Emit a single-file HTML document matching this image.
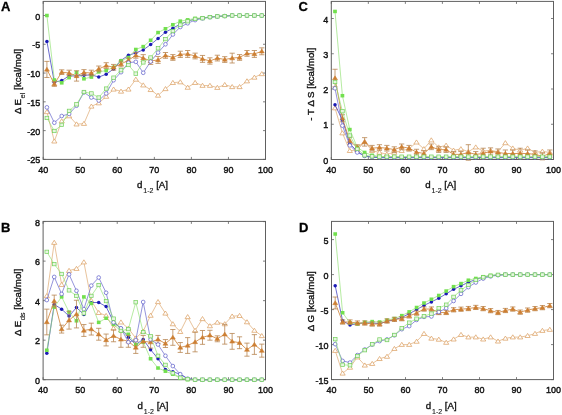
<!DOCTYPE html>
<html><head><meta charset="utf-8"><style>
html,body{margin:0;padding:0;background:#fff;}
svg{display:block;font-family:'Liberation Sans',sans-serif;will-change:transform;}
</style></head><body>
<svg width="562" height="415" viewBox="0 0 562 415" style="font-family:'Liberation Sans',sans-serif">
<rect width="562" height="415" fill="#fff"/>
<rect x="43.2" y="1.4" width="222.3" height="158.0" fill="#fff" stroke="#606060" stroke-width="1"/>
<line x1="43.20" y1="159.4" x2="43.20" y2="156.9" stroke="#606060" stroke-width="0.8"/>
<line x1="43.20" y1="1.4" x2="43.20" y2="3.9" stroke="#606060" stroke-width="0.8"/>
<text transform="translate(43.20,173.10) scale(1,1.06)" text-anchor="middle" font-size="9" fill="#111" stroke="#111" stroke-width="0.4">40</text>
<line x1="80.25" y1="159.4" x2="80.25" y2="156.9" stroke="#606060" stroke-width="0.8"/>
<line x1="80.25" y1="1.4" x2="80.25" y2="3.9" stroke="#606060" stroke-width="0.8"/>
<text transform="translate(80.25,173.10) scale(1,1.06)" text-anchor="middle" font-size="9" fill="#111" stroke="#111" stroke-width="0.4">50</text>
<line x1="117.30" y1="159.4" x2="117.30" y2="156.9" stroke="#606060" stroke-width="0.8"/>
<line x1="117.30" y1="1.4" x2="117.30" y2="3.9" stroke="#606060" stroke-width="0.8"/>
<text transform="translate(117.30,173.10) scale(1,1.06)" text-anchor="middle" font-size="9" fill="#111" stroke="#111" stroke-width="0.4">60</text>
<line x1="154.35" y1="159.4" x2="154.35" y2="156.9" stroke="#606060" stroke-width="0.8"/>
<line x1="154.35" y1="1.4" x2="154.35" y2="3.9" stroke="#606060" stroke-width="0.8"/>
<text transform="translate(154.35,173.10) scale(1,1.06)" text-anchor="middle" font-size="9" fill="#111" stroke="#111" stroke-width="0.4">70</text>
<line x1="191.40" y1="159.4" x2="191.40" y2="156.9" stroke="#606060" stroke-width="0.8"/>
<line x1="191.40" y1="1.4" x2="191.40" y2="3.9" stroke="#606060" stroke-width="0.8"/>
<text transform="translate(191.40,173.10) scale(1,1.06)" text-anchor="middle" font-size="9" fill="#111" stroke="#111" stroke-width="0.4">80</text>
<line x1="228.45" y1="159.4" x2="228.45" y2="156.9" stroke="#606060" stroke-width="0.8"/>
<line x1="228.45" y1="1.4" x2="228.45" y2="3.9" stroke="#606060" stroke-width="0.8"/>
<text transform="translate(228.45,173.10) scale(1,1.06)" text-anchor="middle" font-size="9" fill="#111" stroke="#111" stroke-width="0.4">90</text>
<line x1="265.50" y1="159.4" x2="265.50" y2="156.9" stroke="#606060" stroke-width="0.8"/>
<line x1="265.50" y1="1.4" x2="265.50" y2="3.9" stroke="#606060" stroke-width="0.8"/>
<text transform="translate(265.50,173.10) scale(1,1.06)" text-anchor="middle" font-size="9" fill="#111" stroke="#111" stroke-width="0.4">100</text>
<line x1="43.2" y1="159.40" x2="45.7" y2="159.40" stroke="#606060" stroke-width="0.8"/>
<line x1="265.5" y1="159.40" x2="263.0" y2="159.40" stroke="#606060" stroke-width="0.8"/>
<text transform="translate(40.20,163.40) scale(1,1.06)" text-anchor="end" font-size="9" fill="#111" stroke="#111" stroke-width="0.4">-25</text>
<line x1="43.2" y1="130.62" x2="45.7" y2="130.62" stroke="#606060" stroke-width="0.8"/>
<line x1="265.5" y1="130.62" x2="263.0" y2="130.62" stroke="#606060" stroke-width="0.8"/>
<text transform="translate(40.20,134.62) scale(1,1.06)" text-anchor="end" font-size="9" fill="#111" stroke="#111" stroke-width="0.4">-20</text>
<line x1="43.2" y1="101.84" x2="45.7" y2="101.84" stroke="#606060" stroke-width="0.8"/>
<line x1="265.5" y1="101.84" x2="263.0" y2="101.84" stroke="#606060" stroke-width="0.8"/>
<text transform="translate(40.20,105.84) scale(1,1.06)" text-anchor="end" font-size="9" fill="#111" stroke="#111" stroke-width="0.4">-15</text>
<line x1="43.2" y1="73.06" x2="45.7" y2="73.06" stroke="#606060" stroke-width="0.8"/>
<line x1="265.5" y1="73.06" x2="263.0" y2="73.06" stroke="#606060" stroke-width="0.8"/>
<text transform="translate(40.20,77.06) scale(1,1.06)" text-anchor="end" font-size="9" fill="#111" stroke="#111" stroke-width="0.4">-10</text>
<line x1="43.2" y1="44.28" x2="45.7" y2="44.28" stroke="#606060" stroke-width="0.8"/>
<line x1="265.5" y1="44.28" x2="263.0" y2="44.28" stroke="#606060" stroke-width="0.8"/>
<text transform="translate(40.20,48.28) scale(1,1.06)" text-anchor="end" font-size="9" fill="#111" stroke="#111" stroke-width="0.4">-5</text>
<line x1="43.2" y1="15.50" x2="45.7" y2="15.50" stroke="#606060" stroke-width="0.8"/>
<line x1="265.5" y1="15.50" x2="263.0" y2="15.50" stroke="#606060" stroke-width="0.8"/>
<text transform="translate(40.20,19.50) scale(1,1.06)" text-anchor="end" font-size="9" fill="#111" stroke="#111" stroke-width="0.4">0</text>
<clipPath id="cA"><rect x="43.2" y="1.4" width="222.3" height="158.0"/></clipPath>
<g>
<polyline points="46.91,111.86 54.32,141.21 61.73,121.12 69.14,116.00 76.55,124.17 83.96,123.60 91.37,106.33 98.78,103.05 106.19,96.49 113.59,89.29 121.01,91.36 128.42,89.29 135.82,79.39 143.24,85.15 150.65,89.75 158.06,95.39 165.47,88.83 172.88,82.67 180.29,82.04 187.69,87.45 195.11,82.67 202.51,85.55 209.93,85.55 217.33,87.62 224.75,84.74 232.16,86.82 239.56,86.82 246.98,81.06 254.38,77.38 261.80,73.87" fill="none" stroke="#dca266" stroke-width="0.65"/>
<polygon points="46.91,109.56 49.51,113.66 44.30,113.66" fill="#fff" stroke="#dca266" stroke-width="0.75"/>
<polygon points="54.32,138.91 56.92,143.01 51.72,143.01" fill="#fff" stroke="#dca266" stroke-width="0.75"/>
<polygon points="61.73,118.82 64.33,122.92 59.12,122.92" fill="#fff" stroke="#dca266" stroke-width="0.75"/>
<polygon points="69.14,113.70 71.73,117.80 66.54,117.80" fill="#fff" stroke="#dca266" stroke-width="0.75"/>
<polygon points="76.55,121.87 79.14,125.97 73.95,125.97" fill="#fff" stroke="#dca266" stroke-width="0.75"/>
<polygon points="83.96,121.30 86.56,125.40 81.36,125.40" fill="#fff" stroke="#dca266" stroke-width="0.75"/>
<polygon points="91.37,104.03 93.97,108.13 88.77,108.13" fill="#fff" stroke="#dca266" stroke-width="0.75"/>
<polygon points="98.78,100.75 101.38,104.85 96.18,104.85" fill="#fff" stroke="#dca266" stroke-width="0.75"/>
<polygon points="106.19,94.19 108.78,98.29 103.59,98.29" fill="#fff" stroke="#dca266" stroke-width="0.75"/>
<polygon points="113.59,86.99 116.19,91.09 111.00,91.09" fill="#fff" stroke="#dca266" stroke-width="0.75"/>
<polygon points="121.01,89.06 123.61,93.16 118.41,93.16" fill="#fff" stroke="#dca266" stroke-width="0.75"/>
<polygon points="128.42,86.99 131.02,91.09 125.82,91.09" fill="#fff" stroke="#dca266" stroke-width="0.75"/>
<polygon points="135.82,77.09 138.42,81.19 133.22,81.19" fill="#fff" stroke="#dca266" stroke-width="0.75"/>
<polygon points="143.24,82.85 145.84,86.95 140.64,86.95" fill="#fff" stroke="#dca266" stroke-width="0.75"/>
<polygon points="150.65,87.45 153.25,91.55 148.05,91.55" fill="#fff" stroke="#dca266" stroke-width="0.75"/>
<polygon points="158.06,93.09 160.66,97.19 155.46,97.19" fill="#fff" stroke="#dca266" stroke-width="0.75"/>
<polygon points="165.47,86.53 168.06,90.63 162.87,90.63" fill="#fff" stroke="#dca266" stroke-width="0.75"/>
<polygon points="172.88,80.37 175.47,84.47 170.28,84.47" fill="#fff" stroke="#dca266" stroke-width="0.75"/>
<polygon points="180.29,79.74 182.89,83.84 177.69,83.84" fill="#fff" stroke="#dca266" stroke-width="0.75"/>
<polygon points="187.69,85.15 190.29,89.25 185.09,89.25" fill="#fff" stroke="#dca266" stroke-width="0.75"/>
<polygon points="195.11,80.37 197.71,84.47 192.51,84.47" fill="#fff" stroke="#dca266" stroke-width="0.75"/>
<polygon points="202.51,83.25 205.11,87.35 199.91,87.35" fill="#fff" stroke="#dca266" stroke-width="0.75"/>
<polygon points="209.93,83.25 212.53,87.35 207.33,87.35" fill="#fff" stroke="#dca266" stroke-width="0.75"/>
<polygon points="217.33,85.32 219.93,89.42 214.73,89.42" fill="#fff" stroke="#dca266" stroke-width="0.75"/>
<polygon points="224.75,82.44 227.34,86.54 222.15,86.54" fill="#fff" stroke="#dca266" stroke-width="0.75"/>
<polygon points="232.16,84.52 234.76,88.62 229.56,88.62" fill="#fff" stroke="#dca266" stroke-width="0.75"/>
<polygon points="239.56,84.52 242.16,88.62 236.97,88.62" fill="#fff" stroke="#dca266" stroke-width="0.75"/>
<polygon points="246.98,78.76 249.58,82.86 244.38,82.86" fill="#fff" stroke="#dca266" stroke-width="0.75"/>
<polygon points="254.38,75.08 256.99,79.18 251.78,79.18" fill="#fff" stroke="#dca266" stroke-width="0.75"/>
<polygon points="261.80,71.57 264.40,75.67 259.19,75.67" fill="#fff" stroke="#dca266" stroke-width="0.75"/>
<polyline points="46.91,41.40 54.32,82.27 61.73,80.54 69.14,75.94 76.55,75.94 83.96,75.36 91.37,74.79 98.78,77.09 106.19,74.21 113.59,69.03 121.01,60.40 128.42,55.33 135.82,52.91 143.24,49.92 150.65,44.57 158.06,38.52 165.47,32.19 172.88,28.16 180.29,24.13 187.69,21.26 195.11,18.95 202.51,18.09 209.93,17.11 217.33,16.42 224.75,16.08 232.16,15.50 239.56,15.50 246.98,15.50 254.38,15.50 261.80,15.50" fill="none" stroke="#1a1ab4" stroke-width="0.65"/>
<circle cx="46.91" cy="41.40" r="1.75" fill="#1a1ab4"/>
<circle cx="54.32" cy="82.27" r="1.75" fill="#1a1ab4"/>
<circle cx="61.73" cy="80.54" r="1.75" fill="#1a1ab4"/>
<circle cx="69.14" cy="75.94" r="1.75" fill="#1a1ab4"/>
<circle cx="76.55" cy="75.94" r="1.75" fill="#1a1ab4"/>
<circle cx="83.96" cy="75.36" r="1.75" fill="#1a1ab4"/>
<circle cx="91.37" cy="74.79" r="1.75" fill="#1a1ab4"/>
<circle cx="98.78" cy="77.09" r="1.75" fill="#1a1ab4"/>
<circle cx="106.19" cy="74.21" r="1.75" fill="#1a1ab4"/>
<circle cx="113.59" cy="69.03" r="1.75" fill="#1a1ab4"/>
<circle cx="121.01" cy="60.40" r="1.75" fill="#1a1ab4"/>
<circle cx="128.42" cy="55.33" r="1.75" fill="#1a1ab4"/>
<circle cx="135.82" cy="52.91" r="1.75" fill="#1a1ab4"/>
<circle cx="143.24" cy="49.92" r="1.75" fill="#1a1ab4"/>
<circle cx="150.65" cy="44.57" r="1.75" fill="#1a1ab4"/>
<circle cx="158.06" cy="38.52" r="1.75" fill="#1a1ab4"/>
<circle cx="165.47" cy="32.19" r="1.75" fill="#1a1ab4"/>
<circle cx="172.88" cy="28.16" r="1.75" fill="#1a1ab4"/>
<circle cx="180.29" cy="24.13" r="1.75" fill="#1a1ab4"/>
<circle cx="187.69" cy="21.26" r="1.75" fill="#1a1ab4"/>
<circle cx="195.11" cy="18.95" r="1.75" fill="#1a1ab4"/>
<circle cx="202.51" cy="18.09" r="1.75" fill="#1a1ab4"/>
<circle cx="209.93" cy="17.11" r="1.75" fill="#1a1ab4"/>
<circle cx="217.33" cy="16.42" r="1.75" fill="#1a1ab4"/>
<circle cx="224.75" cy="16.08" r="1.75" fill="#1a1ab4"/>
<circle cx="232.16" cy="15.50" r="1.75" fill="#1a1ab4"/>
<circle cx="239.56" cy="15.50" r="1.75" fill="#1a1ab4"/>
<circle cx="246.98" cy="15.50" r="1.75" fill="#1a1ab4"/>
<circle cx="254.38" cy="15.50" r="1.75" fill="#1a1ab4"/>
<circle cx="261.80" cy="15.50" r="1.75" fill="#1a1ab4"/>
<polyline points="46.91,15.50 54.32,79.97 61.73,82.85 69.14,77.66 76.55,72.48 83.96,78.82 91.37,77.09 98.78,71.91 106.19,70.53 113.59,67.30 121.01,60.80 128.42,57.52 135.82,49.46 143.24,46.58 150.65,40.25 158.06,32.54 165.47,28.74 172.88,24.71 180.29,21.14 187.69,19.82 195.11,18.38 202.51,17.80 209.93,16.94 217.33,16.36 224.75,15.96 232.16,15.50 239.56,15.50 246.98,15.50 254.38,15.50 261.80,15.50" fill="none" stroke="#8ee070" stroke-width="0.65"/>
<rect x="45.05" y="13.75" width="3.7" height="3.5" fill="#72e04e"/>
<rect x="52.47" y="78.22" width="3.7" height="3.5" fill="#72e04e"/>
<rect x="59.88" y="81.10" width="3.7" height="3.5" fill="#72e04e"/>
<rect x="67.29" y="75.91" width="3.7" height="3.5" fill="#72e04e"/>
<rect x="74.70" y="70.73" width="3.7" height="3.5" fill="#72e04e"/>
<rect x="82.11" y="77.07" width="3.7" height="3.5" fill="#72e04e"/>
<rect x="89.52" y="75.34" width="3.7" height="3.5" fill="#72e04e"/>
<rect x="96.93" y="70.16" width="3.7" height="3.5" fill="#72e04e"/>
<rect x="104.34" y="68.78" width="3.7" height="3.5" fill="#72e04e"/>
<rect x="111.75" y="65.55" width="3.7" height="3.5" fill="#72e04e"/>
<rect x="119.16" y="59.05" width="3.7" height="3.5" fill="#72e04e"/>
<rect x="126.57" y="55.77" width="3.7" height="3.5" fill="#72e04e"/>
<rect x="133.97" y="47.71" width="3.7" height="3.5" fill="#72e04e"/>
<rect x="141.39" y="44.83" width="3.7" height="3.5" fill="#72e04e"/>
<rect x="148.80" y="38.50" width="3.7" height="3.5" fill="#72e04e"/>
<rect x="156.21" y="30.79" width="3.7" height="3.5" fill="#72e04e"/>
<rect x="163.62" y="26.99" width="3.7" height="3.5" fill="#72e04e"/>
<rect x="171.03" y="22.96" width="3.7" height="3.5" fill="#72e04e"/>
<rect x="178.44" y="19.39" width="3.7" height="3.5" fill="#72e04e"/>
<rect x="185.84" y="18.07" width="3.7" height="3.5" fill="#72e04e"/>
<rect x="193.26" y="16.63" width="3.7" height="3.5" fill="#72e04e"/>
<rect x="200.66" y="16.05" width="3.7" height="3.5" fill="#72e04e"/>
<rect x="208.08" y="15.19" width="3.7" height="3.5" fill="#72e04e"/>
<rect x="215.48" y="14.61" width="3.7" height="3.5" fill="#72e04e"/>
<rect x="222.90" y="14.21" width="3.7" height="3.5" fill="#72e04e"/>
<rect x="230.31" y="13.75" width="3.7" height="3.5" fill="#72e04e"/>
<rect x="237.72" y="13.75" width="3.7" height="3.5" fill="#72e04e"/>
<rect x="245.13" y="13.75" width="3.7" height="3.5" fill="#72e04e"/>
<rect x="252.53" y="13.75" width="3.7" height="3.5" fill="#72e04e"/>
<rect x="259.94" y="13.75" width="3.7" height="3.5" fill="#72e04e"/>
<polyline points="46.91,69.43 54.32,84.00 61.73,72.14 69.14,73.06 76.55,75.94 83.96,72.48 91.37,73.06 98.78,68.92 106.19,65.58 113.59,67.30 121.01,64.02 128.42,60.22 135.82,55.33 143.24,58.09 150.65,60.97 158.06,59.94 165.47,55.39 172.88,57.46 180.29,54.35 187.69,53.95 195.11,56.02 202.51,58.90 209.93,60.97 217.33,58.09 224.75,59.53 232.16,58.09 239.56,57.46 246.98,53.37 254.38,53.95 261.80,51.30" fill="none" stroke="#cd7f32" stroke-width="0.8"/>
<path d="M46.91,61.38V77.49M44.30,61.38H49.51M44.30,77.49H49.51" stroke="#b88550" stroke-width="0.8" fill="none"/>
<path d="M54.32,81.69V86.30M51.72,81.69H56.92M51.72,86.30H56.92" stroke="#b88550" stroke-width="0.8" fill="none"/>
<path d="M61.73,69.84V74.44M59.12,69.84H64.33M59.12,74.44H64.33" stroke="#b88550" stroke-width="0.8" fill="none"/>
<path d="M69.14,70.18V75.94M66.54,70.18H71.73M66.54,75.94H71.73" stroke="#b88550" stroke-width="0.8" fill="none"/>
<path d="M76.55,70.76V81.12M73.95,70.76H79.14M73.95,81.12H79.14" stroke="#b88550" stroke-width="0.8" fill="none"/>
<path d="M83.96,69.61V75.36M81.36,69.61H86.56M81.36,75.36H86.56" stroke="#b88550" stroke-width="0.8" fill="none"/>
<path d="M91.37,70.18V75.94M88.77,70.18H93.97M88.77,75.94H93.97" stroke="#b88550" stroke-width="0.8" fill="none"/>
<path d="M98.78,66.04V71.79M96.18,66.04H101.38M96.18,71.79H101.38" stroke="#b88550" stroke-width="0.8" fill="none"/>
<path d="M106.19,62.70V68.46M103.59,62.70H108.78M103.59,68.46H108.78" stroke="#b88550" stroke-width="0.8" fill="none"/>
<path d="M113.59,64.43V70.18M111.00,64.43H116.19M111.00,70.18H116.19" stroke="#b88550" stroke-width="0.8" fill="none"/>
<path d="M121.01,61.15V66.90M118.41,61.15H123.61M118.41,66.90H123.61" stroke="#b88550" stroke-width="0.8" fill="none"/>
<path d="M128.42,57.92V62.53M125.82,57.92H131.02M125.82,62.53H131.02" stroke="#b88550" stroke-width="0.8" fill="none"/>
<path d="M135.82,52.45V58.21M133.22,52.45H138.42M133.22,58.21H138.42" stroke="#b88550" stroke-width="0.8" fill="none"/>
<path d="M143.24,54.64V61.55M140.64,54.64H145.84M140.64,61.55H145.84" stroke="#b88550" stroke-width="0.8" fill="none"/>
<path d="M150.65,57.52V64.43M148.05,57.52H153.25M148.05,64.43H153.25" stroke="#b88550" stroke-width="0.8" fill="none"/>
<path d="M158.06,56.48V63.39M155.46,56.48H160.66M155.46,63.39H160.66" stroke="#b88550" stroke-width="0.8" fill="none"/>
<path d="M165.47,52.51V58.27M162.87,52.51H168.06M162.87,58.27H168.06" stroke="#b88550" stroke-width="0.8" fill="none"/>
<path d="M172.88,54.58V60.34M170.28,54.58H175.47M170.28,60.34H175.47" stroke="#b88550" stroke-width="0.8" fill="none"/>
<path d="M180.29,51.19V57.52M177.69,51.19H182.89M177.69,57.52H182.89" stroke="#b88550" stroke-width="0.8" fill="none"/>
<path d="M187.69,50.50V57.40M185.09,50.50H190.29M185.09,57.40H190.29" stroke="#b88550" stroke-width="0.8" fill="none"/>
<path d="M195.11,53.14V58.90M192.51,53.14H197.71M192.51,58.90H197.71" stroke="#b88550" stroke-width="0.8" fill="none"/>
<path d="M202.51,55.45V62.35M199.91,55.45H205.11M199.91,62.35H205.11" stroke="#b88550" stroke-width="0.8" fill="none"/>
<path d="M209.93,57.81V64.14M207.33,57.81H212.53M207.33,64.14H212.53" stroke="#b88550" stroke-width="0.8" fill="none"/>
<path d="M217.33,55.22V60.97M214.73,55.22H219.93M214.73,60.97H219.93" stroke="#b88550" stroke-width="0.8" fill="none"/>
<path d="M224.75,56.66V62.41M222.15,56.66H227.34M222.15,62.41H227.34" stroke="#b88550" stroke-width="0.8" fill="none"/>
<path d="M232.16,53.20V62.99M229.56,53.20H234.76M229.56,62.99H234.76" stroke="#b88550" stroke-width="0.8" fill="none"/>
<path d="M239.56,54.58V60.34M236.97,54.58H242.16M236.97,60.34H242.16" stroke="#b88550" stroke-width="0.8" fill="none"/>
<path d="M246.98,50.50V56.25M244.38,50.50H249.58M244.38,56.25H249.58" stroke="#b88550" stroke-width="0.8" fill="none"/>
<path d="M254.38,50.50V57.40M251.78,50.50H256.99M251.78,57.40H256.99" stroke="#b88550" stroke-width="0.8" fill="none"/>
<path d="M261.80,47.85V54.76M259.19,47.85H264.40M259.19,54.76H264.40" stroke="#b88550" stroke-width="0.8" fill="none"/>
<polygon points="46.91,67.23 49.41,71.13 44.41,71.13" fill="#cd7f32" stroke="#cd7f32" stroke-width="0.5"/>
<polygon points="54.32,81.80 56.82,85.70 51.82,85.70" fill="#cd7f32" stroke="#cd7f32" stroke-width="0.5"/>
<polygon points="61.73,69.94 64.22,73.84 59.23,73.84" fill="#cd7f32" stroke="#cd7f32" stroke-width="0.5"/>
<polygon points="69.14,70.86 71.64,74.76 66.64,74.76" fill="#cd7f32" stroke="#cd7f32" stroke-width="0.5"/>
<polygon points="76.55,73.74 79.05,77.64 74.05,77.64" fill="#cd7f32" stroke="#cd7f32" stroke-width="0.5"/>
<polygon points="83.96,70.28 86.46,74.18 81.46,74.18" fill="#cd7f32" stroke="#cd7f32" stroke-width="0.5"/>
<polygon points="91.37,70.86 93.87,74.76 88.87,74.76" fill="#cd7f32" stroke="#cd7f32" stroke-width="0.5"/>
<polygon points="98.78,66.72 101.28,70.62 96.28,70.62" fill="#cd7f32" stroke="#cd7f32" stroke-width="0.5"/>
<polygon points="106.19,63.38 108.69,67.28 103.69,67.28" fill="#cd7f32" stroke="#cd7f32" stroke-width="0.5"/>
<polygon points="113.59,65.10 116.09,69.00 111.09,69.00" fill="#cd7f32" stroke="#cd7f32" stroke-width="0.5"/>
<polygon points="121.01,61.82 123.51,65.72 118.51,65.72" fill="#cd7f32" stroke="#cd7f32" stroke-width="0.5"/>
<polygon points="128.42,58.02 130.92,61.92 125.92,61.92" fill="#cd7f32" stroke="#cd7f32" stroke-width="0.5"/>
<polygon points="135.82,53.13 138.32,57.03 133.32,57.03" fill="#cd7f32" stroke="#cd7f32" stroke-width="0.5"/>
<polygon points="143.24,55.89 145.74,59.79 140.74,59.79" fill="#cd7f32" stroke="#cd7f32" stroke-width="0.5"/>
<polygon points="150.65,58.77 153.15,62.67 148.15,62.67" fill="#cd7f32" stroke="#cd7f32" stroke-width="0.5"/>
<polygon points="158.06,57.74 160.56,61.64 155.56,61.64" fill="#cd7f32" stroke="#cd7f32" stroke-width="0.5"/>
<polygon points="165.47,53.19 167.97,57.09 162.97,57.09" fill="#cd7f32" stroke="#cd7f32" stroke-width="0.5"/>
<polygon points="172.88,55.26 175.38,59.16 170.38,59.16" fill="#cd7f32" stroke="#cd7f32" stroke-width="0.5"/>
<polygon points="180.29,52.15 182.79,56.05 177.79,56.05" fill="#cd7f32" stroke="#cd7f32" stroke-width="0.5"/>
<polygon points="187.69,51.75 190.19,55.65 185.19,55.65" fill="#cd7f32" stroke="#cd7f32" stroke-width="0.5"/>
<polygon points="195.11,53.82 197.61,57.72 192.61,57.72" fill="#cd7f32" stroke="#cd7f32" stroke-width="0.5"/>
<polygon points="202.51,56.70 205.01,60.60 200.01,60.60" fill="#cd7f32" stroke="#cd7f32" stroke-width="0.5"/>
<polygon points="209.93,58.77 212.43,62.67 207.43,62.67" fill="#cd7f32" stroke="#cd7f32" stroke-width="0.5"/>
<polygon points="217.33,55.89 219.83,59.79 214.83,59.79" fill="#cd7f32" stroke="#cd7f32" stroke-width="0.5"/>
<polygon points="224.75,57.33 227.25,61.23 222.25,61.23" fill="#cd7f32" stroke="#cd7f32" stroke-width="0.5"/>
<polygon points="232.16,55.89 234.66,59.79 229.66,59.79" fill="#cd7f32" stroke="#cd7f32" stroke-width="0.5"/>
<polygon points="239.56,55.26 242.06,59.16 237.06,59.16" fill="#cd7f32" stroke="#cd7f32" stroke-width="0.5"/>
<polygon points="246.98,51.17 249.48,55.07 244.48,55.07" fill="#cd7f32" stroke="#cd7f32" stroke-width="0.5"/>
<polygon points="254.38,51.75 256.88,55.65 251.88,55.65" fill="#cd7f32" stroke="#cd7f32" stroke-width="0.5"/>
<polygon points="261.80,49.10 264.30,53.00 259.30,53.00" fill="#cd7f32" stroke="#cd7f32" stroke-width="0.5"/>
<polyline points="46.91,107.37 54.32,122.73 61.73,116.00 69.14,113.93 76.55,105.70 83.96,92.40 91.37,97.52 98.78,100.57 106.19,93.44 113.59,80.25 121.01,72.20 128.42,62.70 135.82,61.84 143.24,72.77 150.65,61.55 158.06,52.63 165.47,44.28 172.88,34.49 180.29,27.01 187.69,23.27 195.11,20.10 202.51,18.38 209.93,17.23 217.33,16.42 224.75,16.08 232.16,15.50 239.56,15.50 246.98,15.50 254.38,15.50 261.80,15.50" fill="none" stroke="#5a5ac8" stroke-width="0.65"/>
<circle cx="46.91" cy="107.37" r="1.85" fill="#fff" stroke="#5a5ac8" stroke-width="0.7"/>
<circle cx="54.32" cy="122.73" r="1.85" fill="#fff" stroke="#5a5ac8" stroke-width="0.7"/>
<circle cx="61.73" cy="116.00" r="1.85" fill="#fff" stroke="#5a5ac8" stroke-width="0.7"/>
<circle cx="69.14" cy="113.93" r="1.85" fill="#fff" stroke="#5a5ac8" stroke-width="0.7"/>
<circle cx="76.55" cy="105.70" r="1.85" fill="#fff" stroke="#5a5ac8" stroke-width="0.7"/>
<circle cx="83.96" cy="92.40" r="1.85" fill="#fff" stroke="#5a5ac8" stroke-width="0.7"/>
<circle cx="91.37" cy="97.52" r="1.85" fill="#fff" stroke="#5a5ac8" stroke-width="0.7"/>
<circle cx="98.78" cy="100.57" r="1.85" fill="#fff" stroke="#5a5ac8" stroke-width="0.7"/>
<circle cx="106.19" cy="93.44" r="1.85" fill="#fff" stroke="#5a5ac8" stroke-width="0.7"/>
<circle cx="113.59" cy="80.25" r="1.85" fill="#fff" stroke="#5a5ac8" stroke-width="0.7"/>
<circle cx="121.01" cy="72.20" r="1.85" fill="#fff" stroke="#5a5ac8" stroke-width="0.7"/>
<circle cx="128.42" cy="62.70" r="1.85" fill="#fff" stroke="#5a5ac8" stroke-width="0.7"/>
<circle cx="135.82" cy="61.84" r="1.85" fill="#fff" stroke="#5a5ac8" stroke-width="0.7"/>
<circle cx="143.24" cy="72.77" r="1.85" fill="#fff" stroke="#5a5ac8" stroke-width="0.7"/>
<circle cx="150.65" cy="61.55" r="1.85" fill="#fff" stroke="#5a5ac8" stroke-width="0.7"/>
<circle cx="158.06" cy="52.63" r="1.85" fill="#fff" stroke="#5a5ac8" stroke-width="0.7"/>
<circle cx="165.47" cy="44.28" r="1.85" fill="#fff" stroke="#5a5ac8" stroke-width="0.7"/>
<circle cx="172.88" cy="34.49" r="1.85" fill="#fff" stroke="#5a5ac8" stroke-width="0.7"/>
<circle cx="180.29" cy="27.01" r="1.85" fill="#fff" stroke="#5a5ac8" stroke-width="0.7"/>
<circle cx="187.69" cy="23.27" r="1.85" fill="#fff" stroke="#5a5ac8" stroke-width="0.7"/>
<circle cx="195.11" cy="20.10" r="1.85" fill="#fff" stroke="#5a5ac8" stroke-width="0.7"/>
<circle cx="202.51" cy="18.38" r="1.85" fill="#fff" stroke="#5a5ac8" stroke-width="0.7"/>
<circle cx="209.93" cy="17.23" r="1.85" fill="#fff" stroke="#5a5ac8" stroke-width="0.7"/>
<circle cx="217.33" cy="16.42" r="1.85" fill="#fff" stroke="#5a5ac8" stroke-width="0.7"/>
<circle cx="224.75" cy="16.08" r="1.85" fill="#fff" stroke="#5a5ac8" stroke-width="0.7"/>
<circle cx="232.16" cy="15.50" r="1.85" fill="#fff" stroke="#5a5ac8" stroke-width="0.7"/>
<circle cx="239.56" cy="15.50" r="1.85" fill="#fff" stroke="#5a5ac8" stroke-width="0.7"/>
<circle cx="246.98" cy="15.50" r="1.85" fill="#fff" stroke="#5a5ac8" stroke-width="0.7"/>
<circle cx="254.38" cy="15.50" r="1.85" fill="#fff" stroke="#5a5ac8" stroke-width="0.7"/>
<circle cx="261.80" cy="15.50" r="1.85" fill="#fff" stroke="#5a5ac8" stroke-width="0.7"/>
<polyline points="46.91,117.96 54.32,130.97 61.73,124.86 69.14,110.88 76.55,104.32 83.96,92.00 91.37,93.44 98.78,97.52 106.19,88.60 113.59,77.66 121.01,70.18 128.42,65.00 135.82,73.64 143.24,62.41 150.65,57.52 158.06,48.31 165.47,39.10 172.88,31.04 180.29,24.71 187.69,21.26 195.11,18.95 202.51,18.21 209.93,17.11 217.33,16.42 224.75,16.08 232.16,15.50 239.56,15.50 246.98,15.50 254.38,15.50 261.80,15.50" fill="none" stroke="#8ee070" stroke-width="0.65"/>
<rect x="45.05" y="116.26" width="3.7" height="3.4" fill="#e6f6e0" stroke="#72d05a" stroke-width="0.7"/>
<rect x="52.47" y="129.27" width="3.7" height="3.4" fill="#e6f6e0" stroke="#72d05a" stroke-width="0.7"/>
<rect x="59.88" y="123.16" width="3.7" height="3.4" fill="#e6f6e0" stroke="#72d05a" stroke-width="0.7"/>
<rect x="67.29" y="109.18" width="3.7" height="3.4" fill="#e6f6e0" stroke="#72d05a" stroke-width="0.7"/>
<rect x="74.70" y="102.62" width="3.7" height="3.4" fill="#e6f6e0" stroke="#72d05a" stroke-width="0.7"/>
<rect x="82.11" y="90.30" width="3.7" height="3.4" fill="#e6f6e0" stroke="#72d05a" stroke-width="0.7"/>
<rect x="89.52" y="91.74" width="3.7" height="3.4" fill="#e6f6e0" stroke="#72d05a" stroke-width="0.7"/>
<rect x="96.93" y="95.82" width="3.7" height="3.4" fill="#e6f6e0" stroke="#72d05a" stroke-width="0.7"/>
<rect x="104.34" y="86.90" width="3.7" height="3.4" fill="#e6f6e0" stroke="#72d05a" stroke-width="0.7"/>
<rect x="111.75" y="75.96" width="3.7" height="3.4" fill="#e6f6e0" stroke="#72d05a" stroke-width="0.7"/>
<rect x="119.16" y="68.48" width="3.7" height="3.4" fill="#e6f6e0" stroke="#72d05a" stroke-width="0.7"/>
<rect x="126.57" y="63.30" width="3.7" height="3.4" fill="#e6f6e0" stroke="#72d05a" stroke-width="0.7"/>
<rect x="133.97" y="71.94" width="3.7" height="3.4" fill="#e6f6e0" stroke="#72d05a" stroke-width="0.7"/>
<rect x="141.39" y="60.71" width="3.7" height="3.4" fill="#e6f6e0" stroke="#72d05a" stroke-width="0.7"/>
<rect x="148.80" y="55.82" width="3.7" height="3.4" fill="#e6f6e0" stroke="#72d05a" stroke-width="0.7"/>
<rect x="156.21" y="46.61" width="3.7" height="3.4" fill="#e6f6e0" stroke="#72d05a" stroke-width="0.7"/>
<rect x="163.62" y="37.40" width="3.7" height="3.4" fill="#e6f6e0" stroke="#72d05a" stroke-width="0.7"/>
<rect x="171.03" y="29.34" width="3.7" height="3.4" fill="#e6f6e0" stroke="#72d05a" stroke-width="0.7"/>
<rect x="178.44" y="23.01" width="3.7" height="3.4" fill="#e6f6e0" stroke="#72d05a" stroke-width="0.7"/>
<rect x="185.84" y="19.56" width="3.7" height="3.4" fill="#e6f6e0" stroke="#72d05a" stroke-width="0.7"/>
<rect x="193.26" y="17.25" width="3.7" height="3.4" fill="#e6f6e0" stroke="#72d05a" stroke-width="0.7"/>
<rect x="200.66" y="16.51" width="3.7" height="3.4" fill="#e6f6e0" stroke="#72d05a" stroke-width="0.7"/>
<rect x="208.08" y="15.41" width="3.7" height="3.4" fill="#e6f6e0" stroke="#72d05a" stroke-width="0.7"/>
<rect x="215.48" y="14.72" width="3.7" height="3.4" fill="#e6f6e0" stroke="#72d05a" stroke-width="0.7"/>
<rect x="222.90" y="14.38" width="3.7" height="3.4" fill="#e6f6e0" stroke="#72d05a" stroke-width="0.7"/>
<rect x="230.31" y="13.80" width="3.7" height="3.4" fill="#e6f6e0" stroke="#72d05a" stroke-width="0.7"/>
<rect x="237.72" y="13.80" width="3.7" height="3.4" fill="#e6f6e0" stroke="#72d05a" stroke-width="0.7"/>
<rect x="245.13" y="13.80" width="3.7" height="3.4" fill="#e6f6e0" stroke="#72d05a" stroke-width="0.7"/>
<rect x="252.53" y="13.80" width="3.7" height="3.4" fill="#e6f6e0" stroke="#72d05a" stroke-width="0.7"/>
<rect x="259.94" y="13.80" width="3.7" height="3.4" fill="#e6f6e0" stroke="#72d05a" stroke-width="0.7"/>
</g>
<text x="1.0" y="10.6" font-size="13" font-weight="bold" fill="#000" stroke="#000" stroke-width="0.3">A</text>
<text transform="translate(20.5,81.5) rotate(-90)" text-anchor="middle" font-size="9.7" fill="#111" stroke="#111" stroke-width="0.35">Δ E<tspan font-size="7.5" dx="0.5" dy="4.5" stroke-width="0.12">el</tspan><tspan dy="-4.5"> [kcal/mol]</tspan></text>
<text x="152.5" y="188" text-anchor="middle" font-size="9.7" fill="#111" stroke="#111" stroke-width="0.35">d<tspan font-size="7" dx="1" dy="4.5" stroke-width="0.12">1-2</tspan><tspan dy="-4.5"> [A]</tspan></text>
<rect x="331.3" y="1.4" width="222.2" height="158.1" fill="#fff" stroke="#606060" stroke-width="1"/>
<line x1="331.30" y1="159.5" x2="331.30" y2="157.0" stroke="#606060" stroke-width="0.8"/>
<line x1="331.30" y1="1.4" x2="331.30" y2="3.9" stroke="#606060" stroke-width="0.8"/>
<text transform="translate(331.30,173.20) scale(1,1.06)" text-anchor="middle" font-size="9" fill="#111" stroke="#111" stroke-width="0.4">40</text>
<line x1="368.33" y1="159.5" x2="368.33" y2="157.0" stroke="#606060" stroke-width="0.8"/>
<line x1="368.33" y1="1.4" x2="368.33" y2="3.9" stroke="#606060" stroke-width="0.8"/>
<text transform="translate(368.33,173.20) scale(1,1.06)" text-anchor="middle" font-size="9" fill="#111" stroke="#111" stroke-width="0.4">50</text>
<line x1="405.37" y1="159.5" x2="405.37" y2="157.0" stroke="#606060" stroke-width="0.8"/>
<line x1="405.37" y1="1.4" x2="405.37" y2="3.9" stroke="#606060" stroke-width="0.8"/>
<text transform="translate(405.37,173.20) scale(1,1.06)" text-anchor="middle" font-size="9" fill="#111" stroke="#111" stroke-width="0.4">60</text>
<line x1="442.40" y1="159.5" x2="442.40" y2="157.0" stroke="#606060" stroke-width="0.8"/>
<line x1="442.40" y1="1.4" x2="442.40" y2="3.9" stroke="#606060" stroke-width="0.8"/>
<text transform="translate(442.40,173.20) scale(1,1.06)" text-anchor="middle" font-size="9" fill="#111" stroke="#111" stroke-width="0.4">70</text>
<line x1="479.43" y1="159.5" x2="479.43" y2="157.0" stroke="#606060" stroke-width="0.8"/>
<line x1="479.43" y1="1.4" x2="479.43" y2="3.9" stroke="#606060" stroke-width="0.8"/>
<text transform="translate(479.43,173.20) scale(1,1.06)" text-anchor="middle" font-size="9" fill="#111" stroke="#111" stroke-width="0.4">80</text>
<line x1="516.47" y1="159.5" x2="516.47" y2="157.0" stroke="#606060" stroke-width="0.8"/>
<line x1="516.47" y1="1.4" x2="516.47" y2="3.9" stroke="#606060" stroke-width="0.8"/>
<text transform="translate(516.47,173.20) scale(1,1.06)" text-anchor="middle" font-size="9" fill="#111" stroke="#111" stroke-width="0.4">90</text>
<line x1="553.50" y1="159.5" x2="553.50" y2="157.0" stroke="#606060" stroke-width="0.8"/>
<line x1="553.50" y1="1.4" x2="553.50" y2="3.9" stroke="#606060" stroke-width="0.8"/>
<text transform="translate(553.50,173.20) scale(1,1.06)" text-anchor="middle" font-size="9" fill="#111" stroke="#111" stroke-width="0.4">100</text>
<line x1="331.3" y1="159.50" x2="333.8" y2="159.50" stroke="#606060" stroke-width="0.8"/>
<line x1="553.5" y1="159.50" x2="551.0" y2="159.50" stroke="#606060" stroke-width="0.8"/>
<text transform="translate(328.30,163.50) scale(1,1.06)" text-anchor="end" font-size="9" fill="#111" stroke="#111" stroke-width="0.4">0</text>
<line x1="331.3" y1="124.25" x2="333.8" y2="124.25" stroke="#606060" stroke-width="0.8"/>
<line x1="553.5" y1="124.25" x2="551.0" y2="124.25" stroke="#606060" stroke-width="0.8"/>
<text transform="translate(328.30,128.25) scale(1,1.06)" text-anchor="end" font-size="9" fill="#111" stroke="#111" stroke-width="0.4">1</text>
<line x1="331.3" y1="89.00" x2="333.8" y2="89.00" stroke="#606060" stroke-width="0.8"/>
<line x1="553.5" y1="89.00" x2="551.0" y2="89.00" stroke="#606060" stroke-width="0.8"/>
<text transform="translate(328.30,93.00) scale(1,1.06)" text-anchor="end" font-size="9" fill="#111" stroke="#111" stroke-width="0.4">2</text>
<line x1="331.3" y1="53.75" x2="333.8" y2="53.75" stroke="#606060" stroke-width="0.8"/>
<line x1="553.5" y1="53.75" x2="551.0" y2="53.75" stroke="#606060" stroke-width="0.8"/>
<text transform="translate(328.30,57.75) scale(1,1.06)" text-anchor="end" font-size="9" fill="#111" stroke="#111" stroke-width="0.4">3</text>
<line x1="331.3" y1="18.50" x2="333.8" y2="18.50" stroke="#606060" stroke-width="0.8"/>
<line x1="553.5" y1="18.50" x2="551.0" y2="18.50" stroke="#606060" stroke-width="0.8"/>
<text transform="translate(328.30,22.50) scale(1,1.06)" text-anchor="end" font-size="9" fill="#111" stroke="#111" stroke-width="0.4">4</text>
<clipPath id="cC"><rect x="331.3" y="1.4" width="222.2" height="158.1"/></clipPath>
<g>
<polyline points="335.00,108.03 342.41,133.06 349.82,150.69 357.22,149.98 364.63,141.88 372.04,150.69 379.44,152.45 386.85,154.21 394.26,152.45 401.66,150.69 409.07,148.93 416.48,142.23 423.88,148.93 431.29,140.11 438.70,147.16 446.10,145.40 453.51,150.34 460.92,148.93 468.32,151.75 475.73,147.16 483.14,151.04 490.54,150.34 497.95,151.75 505.36,142.93 512.76,148.22 520.17,150.34 527.58,148.22 534.98,152.45 542.39,151.39 549.80,152.45" fill="none" stroke="#dca266" stroke-width="0.65"/>
<polygon points="335.00,105.73 337.60,109.83 332.40,109.83" fill="#fff" stroke="#dca266" stroke-width="0.75"/>
<polygon points="342.41,130.76 345.01,134.86 339.81,134.86" fill="#fff" stroke="#dca266" stroke-width="0.75"/>
<polygon points="349.82,148.39 352.42,152.49 347.22,152.49" fill="#fff" stroke="#dca266" stroke-width="0.75"/>
<polygon points="357.22,147.68 359.82,151.78 354.62,151.78" fill="#fff" stroke="#dca266" stroke-width="0.75"/>
<polygon points="364.63,139.57 367.23,143.68 362.03,143.68" fill="#fff" stroke="#dca266" stroke-width="0.75"/>
<polygon points="372.04,148.39 374.64,152.49 369.44,152.49" fill="#fff" stroke="#dca266" stroke-width="0.75"/>
<polygon points="379.44,150.15 382.04,154.25 376.84,154.25" fill="#fff" stroke="#dca266" stroke-width="0.75"/>
<polygon points="386.85,151.91 389.45,156.01 384.25,156.01" fill="#fff" stroke="#dca266" stroke-width="0.75"/>
<polygon points="394.26,150.15 396.86,154.25 391.66,154.25" fill="#fff" stroke="#dca266" stroke-width="0.75"/>
<polygon points="401.66,148.39 404.26,152.49 399.06,152.49" fill="#fff" stroke="#dca266" stroke-width="0.75"/>
<polygon points="409.07,146.62 411.67,150.73 406.47,150.73" fill="#fff" stroke="#dca266" stroke-width="0.75"/>
<polygon points="416.48,139.93 419.08,144.03 413.88,144.03" fill="#fff" stroke="#dca266" stroke-width="0.75"/>
<polygon points="423.88,146.62 426.48,150.73 421.28,150.73" fill="#fff" stroke="#dca266" stroke-width="0.75"/>
<polygon points="431.29,137.81 433.89,141.91 428.69,141.91" fill="#fff" stroke="#dca266" stroke-width="0.75"/>
<polygon points="438.70,144.86 441.30,148.96 436.10,148.96" fill="#fff" stroke="#dca266" stroke-width="0.75"/>
<polygon points="446.10,143.10 448.70,147.20 443.50,147.20" fill="#fff" stroke="#dca266" stroke-width="0.75"/>
<polygon points="453.51,148.03 456.11,152.14 450.91,152.14" fill="#fff" stroke="#dca266" stroke-width="0.75"/>
<polygon points="460.92,146.62 463.52,150.73 458.32,150.73" fill="#fff" stroke="#dca266" stroke-width="0.75"/>
<polygon points="468.32,149.44 470.92,153.55 465.72,153.55" fill="#fff" stroke="#dca266" stroke-width="0.75"/>
<polygon points="475.73,144.86 478.33,148.96 473.13,148.96" fill="#fff" stroke="#dca266" stroke-width="0.75"/>
<polygon points="483.14,148.74 485.74,152.84 480.54,152.84" fill="#fff" stroke="#dca266" stroke-width="0.75"/>
<polygon points="490.54,148.03 493.14,152.14 487.94,152.14" fill="#fff" stroke="#dca266" stroke-width="0.75"/>
<polygon points="497.95,149.44 500.55,153.55 495.35,153.55" fill="#fff" stroke="#dca266" stroke-width="0.75"/>
<polygon points="505.36,140.63 507.96,144.73 502.76,144.73" fill="#fff" stroke="#dca266" stroke-width="0.75"/>
<polygon points="512.76,145.92 515.36,150.02 510.16,150.02" fill="#fff" stroke="#dca266" stroke-width="0.75"/>
<polygon points="520.17,148.03 522.77,152.14 517.57,152.14" fill="#fff" stroke="#dca266" stroke-width="0.75"/>
<polygon points="527.58,145.92 530.18,150.02 524.98,150.02" fill="#fff" stroke="#dca266" stroke-width="0.75"/>
<polygon points="534.98,150.15 537.58,154.25 532.38,154.25" fill="#fff" stroke="#dca266" stroke-width="0.75"/>
<polygon points="542.39,149.09 544.99,153.19 539.79,153.19" fill="#fff" stroke="#dca266" stroke-width="0.75"/>
<polygon points="549.80,150.15 552.40,154.25 547.20,154.25" fill="#fff" stroke="#dca266" stroke-width="0.75"/>
<polyline points="335.00,104.86 342.41,120.02 349.82,143.64 357.22,151.39 364.63,155.97 372.04,157.03 379.44,157.74 386.85,157.74 394.26,157.74 401.66,157.74 409.07,157.74 416.48,157.74 423.88,157.74 431.29,157.74 438.70,157.74 446.10,157.74 453.51,157.74 460.92,157.74 468.32,157.74 475.73,157.74 483.14,157.74 490.54,157.74 497.95,157.74 505.36,157.74 512.76,157.74 520.17,157.74 527.58,157.74 534.98,157.74 542.39,157.74 549.80,157.74" fill="none" stroke="#1a1ab4" stroke-width="0.65"/>
<circle cx="335.00" cy="104.86" r="1.75" fill="#1a1ab4"/>
<circle cx="342.41" cy="120.02" r="1.75" fill="#1a1ab4"/>
<circle cx="349.82" cy="143.64" r="1.75" fill="#1a1ab4"/>
<circle cx="357.22" cy="151.39" r="1.75" fill="#1a1ab4"/>
<circle cx="364.63" cy="155.97" r="1.75" fill="#1a1ab4"/>
<circle cx="372.04" cy="157.03" r="1.75" fill="#1a1ab4"/>
<circle cx="379.44" cy="157.74" r="1.75" fill="#1a1ab4"/>
<circle cx="386.85" cy="157.74" r="1.75" fill="#1a1ab4"/>
<circle cx="394.26" cy="157.74" r="1.75" fill="#1a1ab4"/>
<circle cx="401.66" cy="157.74" r="1.75" fill="#1a1ab4"/>
<circle cx="409.07" cy="157.74" r="1.75" fill="#1a1ab4"/>
<circle cx="416.48" cy="157.74" r="1.75" fill="#1a1ab4"/>
<circle cx="423.88" cy="157.74" r="1.75" fill="#1a1ab4"/>
<circle cx="431.29" cy="157.74" r="1.75" fill="#1a1ab4"/>
<circle cx="438.70" cy="157.74" r="1.75" fill="#1a1ab4"/>
<circle cx="446.10" cy="157.74" r="1.75" fill="#1a1ab4"/>
<circle cx="453.51" cy="157.74" r="1.75" fill="#1a1ab4"/>
<circle cx="460.92" cy="157.74" r="1.75" fill="#1a1ab4"/>
<circle cx="468.32" cy="157.74" r="1.75" fill="#1a1ab4"/>
<circle cx="475.73" cy="157.74" r="1.75" fill="#1a1ab4"/>
<circle cx="483.14" cy="157.74" r="1.75" fill="#1a1ab4"/>
<circle cx="490.54" cy="157.74" r="1.75" fill="#1a1ab4"/>
<circle cx="497.95" cy="157.74" r="1.75" fill="#1a1ab4"/>
<circle cx="505.36" cy="157.74" r="1.75" fill="#1a1ab4"/>
<circle cx="512.76" cy="157.74" r="1.75" fill="#1a1ab4"/>
<circle cx="520.17" cy="157.74" r="1.75" fill="#1a1ab4"/>
<circle cx="527.58" cy="157.74" r="1.75" fill="#1a1ab4"/>
<circle cx="534.98" cy="157.74" r="1.75" fill="#1a1ab4"/>
<circle cx="542.39" cy="157.74" r="1.75" fill="#1a1ab4"/>
<circle cx="549.80" cy="157.74" r="1.75" fill="#1a1ab4"/>
<polyline points="335.00,11.45 342.41,95.70 349.82,129.54 357.22,147.16 364.63,152.45 372.04,155.27 379.44,156.33 386.85,156.68 394.26,156.68 401.66,157.03 409.07,157.03 416.48,157.03 423.88,157.03 431.29,157.03 438.70,157.03 446.10,157.03 453.51,157.03 460.92,157.03 468.32,157.03 475.73,157.03 483.14,157.03 490.54,157.03 497.95,157.03 505.36,157.03 512.76,157.03 520.17,157.03 527.58,157.03 534.98,157.03 542.39,157.03 549.80,157.03" fill="none" stroke="#8ee070" stroke-width="0.65"/>
<rect x="333.15" y="9.70" width="3.7" height="3.5" fill="#72e04e"/>
<rect x="340.56" y="93.95" width="3.7" height="3.5" fill="#72e04e"/>
<rect x="347.97" y="127.79" width="3.7" height="3.5" fill="#72e04e"/>
<rect x="355.37" y="145.41" width="3.7" height="3.5" fill="#72e04e"/>
<rect x="362.78" y="150.70" width="3.7" height="3.5" fill="#72e04e"/>
<rect x="370.19" y="153.52" width="3.7" height="3.5" fill="#72e04e"/>
<rect x="377.59" y="154.58" width="3.7" height="3.5" fill="#72e04e"/>
<rect x="385.00" y="154.93" width="3.7" height="3.5" fill="#72e04e"/>
<rect x="392.41" y="154.93" width="3.7" height="3.5" fill="#72e04e"/>
<rect x="399.81" y="155.28" width="3.7" height="3.5" fill="#72e04e"/>
<rect x="407.22" y="155.28" width="3.7" height="3.5" fill="#72e04e"/>
<rect x="414.63" y="155.28" width="3.7" height="3.5" fill="#72e04e"/>
<rect x="422.03" y="155.28" width="3.7" height="3.5" fill="#72e04e"/>
<rect x="429.44" y="155.28" width="3.7" height="3.5" fill="#72e04e"/>
<rect x="436.85" y="155.28" width="3.7" height="3.5" fill="#72e04e"/>
<rect x="444.25" y="155.28" width="3.7" height="3.5" fill="#72e04e"/>
<rect x="451.66" y="155.28" width="3.7" height="3.5" fill="#72e04e"/>
<rect x="459.07" y="155.28" width="3.7" height="3.5" fill="#72e04e"/>
<rect x="466.47" y="155.28" width="3.7" height="3.5" fill="#72e04e"/>
<rect x="473.88" y="155.28" width="3.7" height="3.5" fill="#72e04e"/>
<rect x="481.29" y="155.28" width="3.7" height="3.5" fill="#72e04e"/>
<rect x="488.69" y="155.28" width="3.7" height="3.5" fill="#72e04e"/>
<rect x="496.10" y="155.28" width="3.7" height="3.5" fill="#72e04e"/>
<rect x="503.51" y="155.28" width="3.7" height="3.5" fill="#72e04e"/>
<rect x="510.91" y="155.28" width="3.7" height="3.5" fill="#72e04e"/>
<rect x="518.32" y="155.28" width="3.7" height="3.5" fill="#72e04e"/>
<rect x="525.73" y="155.28" width="3.7" height="3.5" fill="#72e04e"/>
<rect x="533.13" y="155.28" width="3.7" height="3.5" fill="#72e04e"/>
<rect x="540.54" y="155.28" width="3.7" height="3.5" fill="#72e04e"/>
<rect x="547.95" y="155.28" width="3.7" height="3.5" fill="#72e04e"/>
<polyline points="335.00,78.07 342.41,118.26 349.82,140.82 357.22,147.51 364.63,141.88 372.04,148.22 379.44,147.51 386.85,148.22 394.26,149.63 401.66,146.81 409.07,148.22 416.48,152.10 423.88,153.51 431.29,146.81 438.70,149.63 446.10,149.63 453.51,154.39 460.92,154.39 468.32,152.45 475.73,154.39 483.14,153.51 490.54,151.39 497.95,152.45 505.36,153.51 512.76,153.51 520.17,153.51 527.58,153.51 534.98,154.39 542.39,156.33 549.80,153.51" fill="none" stroke="#cd7f32" stroke-width="0.8"/>
<path d="M335.00,69.26V86.89M332.40,69.26H337.60M332.40,86.89H337.60" stroke="#b88550" stroke-width="0.8" fill="none"/>
<path d="M342.41,114.73V121.78M339.81,114.73H345.01M339.81,121.78H345.01" stroke="#b88550" stroke-width="0.8" fill="none"/>
<path d="M349.82,137.29V144.34M347.22,137.29H352.42M347.22,144.34H352.42" stroke="#b88550" stroke-width="0.8" fill="none"/>
<path d="M357.22,144.69V150.34M354.62,144.69H359.82M354.62,150.34H359.82" stroke="#b88550" stroke-width="0.8" fill="none"/>
<path d="M364.63,137.65V146.10M362.03,137.65H367.23M362.03,146.10H367.23" stroke="#b88550" stroke-width="0.8" fill="none"/>
<path d="M372.04,145.40V151.04M369.44,145.40H374.64M369.44,151.04H374.64" stroke="#b88550" stroke-width="0.8" fill="none"/>
<path d="M379.44,144.69V150.34M376.84,144.69H382.04M376.84,150.34H382.04" stroke="#b88550" stroke-width="0.8" fill="none"/>
<path d="M386.85,145.40V151.04M384.25,145.40H389.45M384.25,151.04H389.45" stroke="#b88550" stroke-width="0.8" fill="none"/>
<path d="M394.26,146.81V152.45M391.66,146.81H396.86M391.66,152.45H396.86" stroke="#b88550" stroke-width="0.8" fill="none"/>
<path d="M401.66,143.99V149.63M399.06,143.99H404.26M399.06,149.63H404.26" stroke="#b88550" stroke-width="0.8" fill="none"/>
<path d="M409.07,145.40V151.04M406.47,145.40H411.67M406.47,151.04H411.67" stroke="#b88550" stroke-width="0.8" fill="none"/>
<path d="M416.48,149.28V154.92M413.88,149.28H419.08M413.88,154.92H419.08" stroke="#b88550" stroke-width="0.8" fill="none"/>
<path d="M423.88,150.69V156.33M421.28,150.69H426.48M421.28,156.33H426.48" stroke="#b88550" stroke-width="0.8" fill="none"/>
<path d="M431.29,143.99V149.63M428.69,143.99H433.89M428.69,149.63H433.89" stroke="#b88550" stroke-width="0.8" fill="none"/>
<path d="M438.70,146.81V152.45M436.10,146.81H441.30M436.10,152.45H441.30" stroke="#b88550" stroke-width="0.8" fill="none"/>
<path d="M446.10,146.81V152.45M443.50,146.81H448.70M443.50,152.45H448.70" stroke="#b88550" stroke-width="0.8" fill="none"/>
<path d="M453.51,151.57V157.21M450.91,151.57H456.11M450.91,157.21H456.11" stroke="#b88550" stroke-width="0.8" fill="none"/>
<path d="M460.92,151.57V157.21M458.32,151.57H463.52M458.32,157.21H463.52" stroke="#b88550" stroke-width="0.8" fill="none"/>
<path d="M468.32,144.69V160.21M465.72,144.69H470.92M465.72,160.21H470.92" stroke="#b88550" stroke-width="0.8" fill="none"/>
<path d="M475.73,151.57V157.21M473.13,151.57H478.33M473.13,157.21H478.33" stroke="#b88550" stroke-width="0.8" fill="none"/>
<path d="M483.14,148.22V158.79M480.54,148.22H485.74M480.54,158.79H485.74" stroke="#b88550" stroke-width="0.8" fill="none"/>
<path d="M490.54,147.87V154.92M487.94,147.87H493.14M487.94,154.92H493.14" stroke="#b88550" stroke-width="0.8" fill="none"/>
<path d="M497.95,148.93V155.97M495.35,148.93H500.55M495.35,155.97H500.55" stroke="#b88550" stroke-width="0.8" fill="none"/>
<path d="M505.36,149.98V157.03M502.76,149.98H507.96M502.76,157.03H507.96" stroke="#b88550" stroke-width="0.8" fill="none"/>
<path d="M512.76,149.98V157.03M510.16,149.98H515.36M510.16,157.03H515.36" stroke="#b88550" stroke-width="0.8" fill="none"/>
<path d="M520.17,148.22V158.79M517.57,148.22H522.77M517.57,158.79H522.77" stroke="#b88550" stroke-width="0.8" fill="none"/>
<path d="M527.58,149.98V157.03M524.98,149.98H530.18M524.98,157.03H530.18" stroke="#b88550" stroke-width="0.8" fill="none"/>
<path d="M534.98,150.86V157.91M532.38,150.86H537.58M532.38,157.91H537.58" stroke="#b88550" stroke-width="0.8" fill="none"/>
<path d="M542.39,152.80V159.85M539.79,152.80H544.99M539.79,159.85H544.99" stroke="#b88550" stroke-width="0.8" fill="none"/>
<path d="M549.80,149.98V157.03M547.20,149.98H552.40M547.20,157.03H552.40" stroke="#b88550" stroke-width="0.8" fill="none"/>
<polygon points="335.00,75.87 337.50,79.77 332.50,79.77" fill="#cd7f32" stroke="#cd7f32" stroke-width="0.5"/>
<polygon points="342.41,116.06 344.91,119.96 339.91,119.96" fill="#cd7f32" stroke="#cd7f32" stroke-width="0.5"/>
<polygon points="349.82,138.62 352.32,142.52 347.32,142.52" fill="#cd7f32" stroke="#cd7f32" stroke-width="0.5"/>
<polygon points="357.22,145.31 359.72,149.21 354.72,149.21" fill="#cd7f32" stroke="#cd7f32" stroke-width="0.5"/>
<polygon points="364.63,139.68 367.13,143.57 362.13,143.57" fill="#cd7f32" stroke="#cd7f32" stroke-width="0.5"/>
<polygon points="372.04,146.02 374.54,149.92 369.54,149.92" fill="#cd7f32" stroke="#cd7f32" stroke-width="0.5"/>
<polygon points="379.44,145.31 381.94,149.21 376.94,149.21" fill="#cd7f32" stroke="#cd7f32" stroke-width="0.5"/>
<polygon points="386.85,146.02 389.35,149.92 384.35,149.92" fill="#cd7f32" stroke="#cd7f32" stroke-width="0.5"/>
<polygon points="394.26,147.43 396.76,151.33 391.76,151.33" fill="#cd7f32" stroke="#cd7f32" stroke-width="0.5"/>
<polygon points="401.66,144.61 404.16,148.51 399.16,148.51" fill="#cd7f32" stroke="#cd7f32" stroke-width="0.5"/>
<polygon points="409.07,146.02 411.57,149.92 406.57,149.92" fill="#cd7f32" stroke="#cd7f32" stroke-width="0.5"/>
<polygon points="416.48,149.90 418.98,153.80 413.98,153.80" fill="#cd7f32" stroke="#cd7f32" stroke-width="0.5"/>
<polygon points="423.88,151.31 426.38,155.21 421.38,155.21" fill="#cd7f32" stroke="#cd7f32" stroke-width="0.5"/>
<polygon points="431.29,144.61 433.79,148.51 428.79,148.51" fill="#cd7f32" stroke="#cd7f32" stroke-width="0.5"/>
<polygon points="438.70,147.43 441.20,151.33 436.20,151.33" fill="#cd7f32" stroke="#cd7f32" stroke-width="0.5"/>
<polygon points="446.10,147.43 448.60,151.33 443.60,151.33" fill="#cd7f32" stroke="#cd7f32" stroke-width="0.5"/>
<polygon points="453.51,152.19 456.01,156.09 451.01,156.09" fill="#cd7f32" stroke="#cd7f32" stroke-width="0.5"/>
<polygon points="460.92,152.19 463.42,156.09 458.42,156.09" fill="#cd7f32" stroke="#cd7f32" stroke-width="0.5"/>
<polygon points="468.32,150.25 470.82,154.15 465.82,154.15" fill="#cd7f32" stroke="#cd7f32" stroke-width="0.5"/>
<polygon points="475.73,152.19 478.23,156.09 473.23,156.09" fill="#cd7f32" stroke="#cd7f32" stroke-width="0.5"/>
<polygon points="483.14,151.31 485.64,155.21 480.64,155.21" fill="#cd7f32" stroke="#cd7f32" stroke-width="0.5"/>
<polygon points="490.54,149.19 493.04,153.09 488.04,153.09" fill="#cd7f32" stroke="#cd7f32" stroke-width="0.5"/>
<polygon points="497.95,150.25 500.45,154.15 495.45,154.15" fill="#cd7f32" stroke="#cd7f32" stroke-width="0.5"/>
<polygon points="505.36,151.31 507.86,155.21 502.86,155.21" fill="#cd7f32" stroke="#cd7f32" stroke-width="0.5"/>
<polygon points="512.76,151.31 515.26,155.21 510.26,155.21" fill="#cd7f32" stroke="#cd7f32" stroke-width="0.5"/>
<polygon points="520.17,151.31 522.67,155.21 517.67,155.21" fill="#cd7f32" stroke="#cd7f32" stroke-width="0.5"/>
<polygon points="527.58,151.31 530.08,155.21 525.08,155.21" fill="#cd7f32" stroke="#cd7f32" stroke-width="0.5"/>
<polygon points="534.98,152.19 537.48,156.09 532.48,156.09" fill="#cd7f32" stroke="#cd7f32" stroke-width="0.5"/>
<polygon points="542.39,154.13 544.89,158.03 539.89,158.03" fill="#cd7f32" stroke="#cd7f32" stroke-width="0.5"/>
<polygon points="549.80,151.31 552.30,155.21 547.30,155.21" fill="#cd7f32" stroke="#cd7f32" stroke-width="0.5"/>
<polyline points="335.00,88.30 342.41,125.66 349.82,145.40 357.22,152.45 364.63,155.97 372.04,157.03 379.44,157.38 386.85,157.38 394.26,157.38 401.66,157.38 409.07,157.38 416.48,157.38 423.88,157.38 431.29,157.38 438.70,157.38 446.10,157.38 453.51,157.38 460.92,157.38 468.32,157.38 475.73,157.38 483.14,157.38 490.54,157.38 497.95,157.38 505.36,157.38 512.76,157.38 520.17,157.38 527.58,157.38 534.98,157.38 542.39,157.38 549.80,157.38" fill="none" stroke="#5a5ac8" stroke-width="0.65"/>
<circle cx="335.00" cy="88.30" r="1.85" fill="#fff" stroke="#5a5ac8" stroke-width="0.7"/>
<circle cx="342.41" cy="125.66" r="1.85" fill="#fff" stroke="#5a5ac8" stroke-width="0.7"/>
<circle cx="349.82" cy="145.40" r="1.85" fill="#fff" stroke="#5a5ac8" stroke-width="0.7"/>
<circle cx="357.22" cy="152.45" r="1.85" fill="#fff" stroke="#5a5ac8" stroke-width="0.7"/>
<circle cx="364.63" cy="155.97" r="1.85" fill="#fff" stroke="#5a5ac8" stroke-width="0.7"/>
<circle cx="372.04" cy="157.03" r="1.85" fill="#fff" stroke="#5a5ac8" stroke-width="0.7"/>
<circle cx="379.44" cy="157.38" r="1.85" fill="#fff" stroke="#5a5ac8" stroke-width="0.7"/>
<circle cx="386.85" cy="157.38" r="1.85" fill="#fff" stroke="#5a5ac8" stroke-width="0.7"/>
<circle cx="394.26" cy="157.38" r="1.85" fill="#fff" stroke="#5a5ac8" stroke-width="0.7"/>
<circle cx="401.66" cy="157.38" r="1.85" fill="#fff" stroke="#5a5ac8" stroke-width="0.7"/>
<circle cx="409.07" cy="157.38" r="1.85" fill="#fff" stroke="#5a5ac8" stroke-width="0.7"/>
<circle cx="416.48" cy="157.38" r="1.85" fill="#fff" stroke="#5a5ac8" stroke-width="0.7"/>
<circle cx="423.88" cy="157.38" r="1.85" fill="#fff" stroke="#5a5ac8" stroke-width="0.7"/>
<circle cx="431.29" cy="157.38" r="1.85" fill="#fff" stroke="#5a5ac8" stroke-width="0.7"/>
<circle cx="438.70" cy="157.38" r="1.85" fill="#fff" stroke="#5a5ac8" stroke-width="0.7"/>
<circle cx="446.10" cy="157.38" r="1.85" fill="#fff" stroke="#5a5ac8" stroke-width="0.7"/>
<circle cx="453.51" cy="157.38" r="1.85" fill="#fff" stroke="#5a5ac8" stroke-width="0.7"/>
<circle cx="460.92" cy="157.38" r="1.85" fill="#fff" stroke="#5a5ac8" stroke-width="0.7"/>
<circle cx="468.32" cy="157.38" r="1.85" fill="#fff" stroke="#5a5ac8" stroke-width="0.7"/>
<circle cx="475.73" cy="157.38" r="1.85" fill="#fff" stroke="#5a5ac8" stroke-width="0.7"/>
<circle cx="483.14" cy="157.38" r="1.85" fill="#fff" stroke="#5a5ac8" stroke-width="0.7"/>
<circle cx="490.54" cy="157.38" r="1.85" fill="#fff" stroke="#5a5ac8" stroke-width="0.7"/>
<circle cx="497.95" cy="157.38" r="1.85" fill="#fff" stroke="#5a5ac8" stroke-width="0.7"/>
<circle cx="505.36" cy="157.38" r="1.85" fill="#fff" stroke="#5a5ac8" stroke-width="0.7"/>
<circle cx="512.76" cy="157.38" r="1.85" fill="#fff" stroke="#5a5ac8" stroke-width="0.7"/>
<circle cx="520.17" cy="157.38" r="1.85" fill="#fff" stroke="#5a5ac8" stroke-width="0.7"/>
<circle cx="527.58" cy="157.38" r="1.85" fill="#fff" stroke="#5a5ac8" stroke-width="0.7"/>
<circle cx="534.98" cy="157.38" r="1.85" fill="#fff" stroke="#5a5ac8" stroke-width="0.7"/>
<circle cx="542.39" cy="157.38" r="1.85" fill="#fff" stroke="#5a5ac8" stroke-width="0.7"/>
<circle cx="549.80" cy="157.38" r="1.85" fill="#fff" stroke="#5a5ac8" stroke-width="0.7"/>
<polyline points="335.00,81.95 342.41,111.21 349.82,135.53 357.22,148.93 364.63,155.27 372.04,156.33 379.44,156.68 386.85,156.68 394.26,156.68 401.66,156.68 409.07,156.68 416.48,156.68 423.88,156.68 431.29,156.68 438.70,156.68 446.10,156.68 453.51,156.68 460.92,156.68 468.32,156.68 475.73,156.68 483.14,156.68 490.54,156.68 497.95,156.68 505.36,156.68 512.76,156.68 520.17,156.68 527.58,156.68 534.98,156.68 542.39,156.68 549.80,156.68" fill="none" stroke="#8ee070" stroke-width="0.65"/>
<rect x="333.15" y="80.25" width="3.7" height="3.4" fill="#e6f6e0" stroke="#72d05a" stroke-width="0.7"/>
<rect x="340.56" y="109.51" width="3.7" height="3.4" fill="#e6f6e0" stroke="#72d05a" stroke-width="0.7"/>
<rect x="347.97" y="133.83" width="3.7" height="3.4" fill="#e6f6e0" stroke="#72d05a" stroke-width="0.7"/>
<rect x="355.37" y="147.23" width="3.7" height="3.4" fill="#e6f6e0" stroke="#72d05a" stroke-width="0.7"/>
<rect x="362.78" y="153.57" width="3.7" height="3.4" fill="#e6f6e0" stroke="#72d05a" stroke-width="0.7"/>
<rect x="370.19" y="154.63" width="3.7" height="3.4" fill="#e6f6e0" stroke="#72d05a" stroke-width="0.7"/>
<rect x="377.59" y="154.98" width="3.7" height="3.4" fill="#e6f6e0" stroke="#72d05a" stroke-width="0.7"/>
<rect x="385.00" y="154.98" width="3.7" height="3.4" fill="#e6f6e0" stroke="#72d05a" stroke-width="0.7"/>
<rect x="392.41" y="154.98" width="3.7" height="3.4" fill="#e6f6e0" stroke="#72d05a" stroke-width="0.7"/>
<rect x="399.81" y="154.98" width="3.7" height="3.4" fill="#e6f6e0" stroke="#72d05a" stroke-width="0.7"/>
<rect x="407.22" y="154.98" width="3.7" height="3.4" fill="#e6f6e0" stroke="#72d05a" stroke-width="0.7"/>
<rect x="414.63" y="154.98" width="3.7" height="3.4" fill="#e6f6e0" stroke="#72d05a" stroke-width="0.7"/>
<rect x="422.03" y="154.98" width="3.7" height="3.4" fill="#e6f6e0" stroke="#72d05a" stroke-width="0.7"/>
<rect x="429.44" y="154.98" width="3.7" height="3.4" fill="#e6f6e0" stroke="#72d05a" stroke-width="0.7"/>
<rect x="436.85" y="154.98" width="3.7" height="3.4" fill="#e6f6e0" stroke="#72d05a" stroke-width="0.7"/>
<rect x="444.25" y="154.98" width="3.7" height="3.4" fill="#e6f6e0" stroke="#72d05a" stroke-width="0.7"/>
<rect x="451.66" y="154.98" width="3.7" height="3.4" fill="#e6f6e0" stroke="#72d05a" stroke-width="0.7"/>
<rect x="459.07" y="154.98" width="3.7" height="3.4" fill="#e6f6e0" stroke="#72d05a" stroke-width="0.7"/>
<rect x="466.47" y="154.98" width="3.7" height="3.4" fill="#e6f6e0" stroke="#72d05a" stroke-width="0.7"/>
<rect x="473.88" y="154.98" width="3.7" height="3.4" fill="#e6f6e0" stroke="#72d05a" stroke-width="0.7"/>
<rect x="481.29" y="154.98" width="3.7" height="3.4" fill="#e6f6e0" stroke="#72d05a" stroke-width="0.7"/>
<rect x="488.69" y="154.98" width="3.7" height="3.4" fill="#e6f6e0" stroke="#72d05a" stroke-width="0.7"/>
<rect x="496.10" y="154.98" width="3.7" height="3.4" fill="#e6f6e0" stroke="#72d05a" stroke-width="0.7"/>
<rect x="503.51" y="154.98" width="3.7" height="3.4" fill="#e6f6e0" stroke="#72d05a" stroke-width="0.7"/>
<rect x="510.91" y="154.98" width="3.7" height="3.4" fill="#e6f6e0" stroke="#72d05a" stroke-width="0.7"/>
<rect x="518.32" y="154.98" width="3.7" height="3.4" fill="#e6f6e0" stroke="#72d05a" stroke-width="0.7"/>
<rect x="525.73" y="154.98" width="3.7" height="3.4" fill="#e6f6e0" stroke="#72d05a" stroke-width="0.7"/>
<rect x="533.13" y="154.98" width="3.7" height="3.4" fill="#e6f6e0" stroke="#72d05a" stroke-width="0.7"/>
<rect x="540.54" y="154.98" width="3.7" height="3.4" fill="#e6f6e0" stroke="#72d05a" stroke-width="0.7"/>
<rect x="547.95" y="154.98" width="3.7" height="3.4" fill="#e6f6e0" stroke="#72d05a" stroke-width="0.7"/>
</g>
<text x="298.6" y="10.8" font-size="13" font-weight="bold" fill="#000" stroke="#000" stroke-width="0.3">C</text>
<text transform="translate(314,84.3) rotate(-90)" text-anchor="middle" font-size="9.7" fill="#111" stroke="#111" stroke-width="0.35">- T Δ S [kcal/mol]<tspan font-size="7.5" dx="0.5" dy="4.5" stroke-width="0.12"></tspan><tspan dy="-4.5"> </tspan></text>
<text x="440.7" y="188" text-anchor="middle" font-size="9.7" fill="#111" stroke="#111" stroke-width="0.35">d<tspan font-size="7" dx="1" dy="4.5" stroke-width="0.12">1-2</tspan><tspan dy="-4.5"> [A]</tspan></text>
<rect x="43.1" y="221.4" width="222.4" height="158.29999999999998" fill="#fff" stroke="#606060" stroke-width="1"/>
<line x1="43.10" y1="379.7" x2="43.10" y2="377.2" stroke="#606060" stroke-width="0.8"/>
<line x1="43.10" y1="221.4" x2="43.10" y2="223.9" stroke="#606060" stroke-width="0.8"/>
<text transform="translate(43.10,393.40) scale(1,1.06)" text-anchor="middle" font-size="9" fill="#111" stroke="#111" stroke-width="0.4">40</text>
<line x1="80.17" y1="379.7" x2="80.17" y2="377.2" stroke="#606060" stroke-width="0.8"/>
<line x1="80.17" y1="221.4" x2="80.17" y2="223.9" stroke="#606060" stroke-width="0.8"/>
<text transform="translate(80.17,393.40) scale(1,1.06)" text-anchor="middle" font-size="9" fill="#111" stroke="#111" stroke-width="0.4">50</text>
<line x1="117.23" y1="379.7" x2="117.23" y2="377.2" stroke="#606060" stroke-width="0.8"/>
<line x1="117.23" y1="221.4" x2="117.23" y2="223.9" stroke="#606060" stroke-width="0.8"/>
<text transform="translate(117.23,393.40) scale(1,1.06)" text-anchor="middle" font-size="9" fill="#111" stroke="#111" stroke-width="0.4">60</text>
<line x1="154.30" y1="379.7" x2="154.30" y2="377.2" stroke="#606060" stroke-width="0.8"/>
<line x1="154.30" y1="221.4" x2="154.30" y2="223.9" stroke="#606060" stroke-width="0.8"/>
<text transform="translate(154.30,393.40) scale(1,1.06)" text-anchor="middle" font-size="9" fill="#111" stroke="#111" stroke-width="0.4">70</text>
<line x1="191.37" y1="379.7" x2="191.37" y2="377.2" stroke="#606060" stroke-width="0.8"/>
<line x1="191.37" y1="221.4" x2="191.37" y2="223.9" stroke="#606060" stroke-width="0.8"/>
<text transform="translate(191.37,393.40) scale(1,1.06)" text-anchor="middle" font-size="9" fill="#111" stroke="#111" stroke-width="0.4">80</text>
<line x1="228.43" y1="379.7" x2="228.43" y2="377.2" stroke="#606060" stroke-width="0.8"/>
<line x1="228.43" y1="221.4" x2="228.43" y2="223.9" stroke="#606060" stroke-width="0.8"/>
<text transform="translate(228.43,393.40) scale(1,1.06)" text-anchor="middle" font-size="9" fill="#111" stroke="#111" stroke-width="0.4">90</text>
<line x1="265.50" y1="379.7" x2="265.50" y2="377.2" stroke="#606060" stroke-width="0.8"/>
<line x1="265.50" y1="221.4" x2="265.50" y2="223.9" stroke="#606060" stroke-width="0.8"/>
<text transform="translate(265.50,393.40) scale(1,1.06)" text-anchor="middle" font-size="9" fill="#111" stroke="#111" stroke-width="0.4">100</text>
<line x1="43.1" y1="379.70" x2="45.6" y2="379.70" stroke="#606060" stroke-width="0.8"/>
<line x1="265.5" y1="379.70" x2="263.0" y2="379.70" stroke="#606060" stroke-width="0.8"/>
<text transform="translate(40.10,383.70) scale(1,1.06)" text-anchor="end" font-size="9" fill="#111" stroke="#111" stroke-width="0.4">0</text>
<line x1="43.1" y1="340.18" x2="45.6" y2="340.18" stroke="#606060" stroke-width="0.8"/>
<line x1="265.5" y1="340.18" x2="263.0" y2="340.18" stroke="#606060" stroke-width="0.8"/>
<text transform="translate(40.10,344.18) scale(1,1.06)" text-anchor="end" font-size="9" fill="#111" stroke="#111" stroke-width="0.4">2</text>
<line x1="43.1" y1="300.65" x2="45.6" y2="300.65" stroke="#606060" stroke-width="0.8"/>
<line x1="265.5" y1="300.65" x2="263.0" y2="300.65" stroke="#606060" stroke-width="0.8"/>
<text transform="translate(40.10,304.65) scale(1,1.06)" text-anchor="end" font-size="9" fill="#111" stroke="#111" stroke-width="0.4">4</text>
<line x1="43.1" y1="261.12" x2="45.6" y2="261.12" stroke="#606060" stroke-width="0.8"/>
<line x1="265.5" y1="261.12" x2="263.0" y2="261.12" stroke="#606060" stroke-width="0.8"/>
<text transform="translate(40.10,265.12) scale(1,1.06)" text-anchor="end" font-size="9" fill="#111" stroke="#111" stroke-width="0.4">6</text>
<line x1="43.1" y1="221.60" x2="45.6" y2="221.60" stroke="#606060" stroke-width="0.8"/>
<line x1="265.5" y1="221.60" x2="263.0" y2="221.60" stroke="#606060" stroke-width="0.8"/>
<text transform="translate(40.10,225.60) scale(1,1.06)" text-anchor="end" font-size="9" fill="#111" stroke="#111" stroke-width="0.4">8</text>
<clipPath id="cB"><rect x="43.1" y="221.4" width="222.4" height="158.29999999999998"/></clipPath>
<g>
<polyline points="46.81,295.91 54.22,242.55 61.63,284.64 69.05,270.61 76.46,268.63 83.87,262.11 91.29,300.65 98.70,312.71 106.11,315.67 113.53,328.32 120.94,322.19 128.35,328.32 135.77,338.20 143.18,331.28 150.59,315.47 158.01,301.84 165.42,313.30 172.83,323.97 180.25,331.68 187.66,316.86 195.07,330.49 202.49,318.83 209.90,325.95 217.31,322.39 224.73,323.97 232.14,316.26 239.55,315.67 246.97,321.99 254.38,330.49 261.79,335.83" fill="none" stroke="#dca266" stroke-width="0.65"/>
<polygon points="46.81,293.61 49.41,297.71 44.21,297.71" fill="#fff" stroke="#dca266" stroke-width="0.75"/>
<polygon points="54.22,240.25 56.82,244.35 51.62,244.35" fill="#fff" stroke="#dca266" stroke-width="0.75"/>
<polygon points="61.63,282.34 64.23,286.44 59.03,286.44" fill="#fff" stroke="#dca266" stroke-width="0.75"/>
<polygon points="69.05,268.31 71.65,272.41 66.45,272.41" fill="#fff" stroke="#dca266" stroke-width="0.75"/>
<polygon points="76.46,266.33 79.06,270.43 73.86,270.43" fill="#fff" stroke="#dca266" stroke-width="0.75"/>
<polygon points="83.87,259.81 86.47,263.91 81.27,263.91" fill="#fff" stroke="#dca266" stroke-width="0.75"/>
<polygon points="91.29,298.35 93.89,302.45 88.69,302.45" fill="#fff" stroke="#dca266" stroke-width="0.75"/>
<polygon points="98.70,310.41 101.30,314.51 96.10,314.51" fill="#fff" stroke="#dca266" stroke-width="0.75"/>
<polygon points="106.11,313.37 108.71,317.47 103.51,317.47" fill="#fff" stroke="#dca266" stroke-width="0.75"/>
<polygon points="113.53,326.02 116.13,330.12 110.93,330.12" fill="#fff" stroke="#dca266" stroke-width="0.75"/>
<polygon points="120.94,319.89 123.54,323.99 118.34,323.99" fill="#fff" stroke="#dca266" stroke-width="0.75"/>
<polygon points="128.35,326.02 130.95,330.12 125.75,330.12" fill="#fff" stroke="#dca266" stroke-width="0.75"/>
<polygon points="135.77,335.90 138.37,340.00 133.17,340.00" fill="#fff" stroke="#dca266" stroke-width="0.75"/>
<polygon points="143.18,328.98 145.78,333.08 140.58,333.08" fill="#fff" stroke="#dca266" stroke-width="0.75"/>
<polygon points="150.59,313.17 153.19,317.27 147.99,317.27" fill="#fff" stroke="#dca266" stroke-width="0.75"/>
<polygon points="158.01,299.54 160.61,303.64 155.41,303.64" fill="#fff" stroke="#dca266" stroke-width="0.75"/>
<polygon points="165.42,311.00 168.02,315.10 162.82,315.10" fill="#fff" stroke="#dca266" stroke-width="0.75"/>
<polygon points="172.83,321.67 175.43,325.77 170.23,325.77" fill="#fff" stroke="#dca266" stroke-width="0.75"/>
<polygon points="180.25,329.38 182.85,333.48 177.65,333.48" fill="#fff" stroke="#dca266" stroke-width="0.75"/>
<polygon points="187.66,314.56 190.26,318.66 185.06,318.66" fill="#fff" stroke="#dca266" stroke-width="0.75"/>
<polygon points="195.07,328.19 197.67,332.29 192.47,332.29" fill="#fff" stroke="#dca266" stroke-width="0.75"/>
<polygon points="202.49,316.53 205.09,320.63 199.89,320.63" fill="#fff" stroke="#dca266" stroke-width="0.75"/>
<polygon points="209.90,323.65 212.50,327.75 207.30,327.75" fill="#fff" stroke="#dca266" stroke-width="0.75"/>
<polygon points="217.31,320.09 219.91,324.19 214.71,324.19" fill="#fff" stroke="#dca266" stroke-width="0.75"/>
<polygon points="224.73,321.67 227.33,325.77 222.13,325.77" fill="#fff" stroke="#dca266" stroke-width="0.75"/>
<polygon points="232.14,313.96 234.74,318.06 229.54,318.06" fill="#fff" stroke="#dca266" stroke-width="0.75"/>
<polygon points="239.55,313.37 242.15,317.47 236.95,317.47" fill="#fff" stroke="#dca266" stroke-width="0.75"/>
<polygon points="246.97,319.69 249.57,323.79 244.37,323.79" fill="#fff" stroke="#dca266" stroke-width="0.75"/>
<polygon points="254.38,328.19 256.98,332.29 251.78,332.29" fill="#fff" stroke="#dca266" stroke-width="0.75"/>
<polygon points="261.79,333.53 264.39,337.63 259.19,337.63" fill="#fff" stroke="#dca266" stroke-width="0.75"/>
<polyline points="46.81,353.22 54.22,304.40 61.63,309.15 69.05,316.06 76.46,307.57 83.87,314.48 91.29,302.63 98.70,302.43 106.11,306.58 113.53,321.99 120.94,328.32 128.35,337.21 135.77,344.52 143.18,339.38 150.59,349.66 158.01,358.75 165.42,369.42 172.83,371.80 180.25,374.17 187.66,378.71 195.07,379.70 202.49,379.70 209.90,379.70 217.31,379.70 224.73,379.70 232.14,379.70 239.55,379.70 246.97,379.70 254.38,379.70 261.79,379.70" fill="none" stroke="#1a1ab4" stroke-width="0.65"/>
<circle cx="46.81" cy="353.22" r="1.75" fill="#1a1ab4"/>
<circle cx="54.22" cy="304.40" r="1.75" fill="#1a1ab4"/>
<circle cx="61.63" cy="309.15" r="1.75" fill="#1a1ab4"/>
<circle cx="69.05" cy="316.06" r="1.75" fill="#1a1ab4"/>
<circle cx="76.46" cy="307.57" r="1.75" fill="#1a1ab4"/>
<circle cx="83.87" cy="314.48" r="1.75" fill="#1a1ab4"/>
<circle cx="91.29" cy="302.63" r="1.75" fill="#1a1ab4"/>
<circle cx="98.70" cy="302.43" r="1.75" fill="#1a1ab4"/>
<circle cx="106.11" cy="306.58" r="1.75" fill="#1a1ab4"/>
<circle cx="113.53" cy="321.99" r="1.75" fill="#1a1ab4"/>
<circle cx="120.94" cy="328.32" r="1.75" fill="#1a1ab4"/>
<circle cx="128.35" cy="337.21" r="1.75" fill="#1a1ab4"/>
<circle cx="135.77" cy="344.52" r="1.75" fill="#1a1ab4"/>
<circle cx="143.18" cy="339.38" r="1.75" fill="#1a1ab4"/>
<circle cx="150.59" cy="349.66" r="1.75" fill="#1a1ab4"/>
<circle cx="158.01" cy="358.75" r="1.75" fill="#1a1ab4"/>
<circle cx="165.42" cy="369.42" r="1.75" fill="#1a1ab4"/>
<circle cx="172.83" cy="371.80" r="1.75" fill="#1a1ab4"/>
<circle cx="180.25" cy="374.17" r="1.75" fill="#1a1ab4"/>
<circle cx="187.66" cy="378.71" r="1.75" fill="#1a1ab4"/>
<circle cx="195.07" cy="379.70" r="1.75" fill="#1a1ab4"/>
<circle cx="202.49" cy="379.70" r="1.75" fill="#1a1ab4"/>
<circle cx="209.90" cy="379.70" r="1.75" fill="#1a1ab4"/>
<circle cx="217.31" cy="379.70" r="1.75" fill="#1a1ab4"/>
<circle cx="224.73" cy="379.70" r="1.75" fill="#1a1ab4"/>
<circle cx="232.14" cy="379.70" r="1.75" fill="#1a1ab4"/>
<circle cx="239.55" cy="379.70" r="1.75" fill="#1a1ab4"/>
<circle cx="246.97" cy="379.70" r="1.75" fill="#1a1ab4"/>
<circle cx="254.38" cy="379.70" r="1.75" fill="#1a1ab4"/>
<circle cx="261.79" cy="379.70" r="1.75" fill="#1a1ab4"/>
<polyline points="46.81,350.25 54.22,307.17 61.63,296.90 69.05,312.11 76.46,320.81 83.87,296.90 91.29,303.42 98.70,322.39 106.11,318.24 113.53,324.37 120.94,331.08 128.35,334.25 135.77,344.52 143.18,342.15 150.59,358.75 158.01,368.04 165.42,371.20 172.83,374.17 180.25,378.32 187.66,379.70 195.07,379.70 202.49,379.70 209.90,379.70 217.31,379.70 224.73,379.70 232.14,379.70 239.55,379.70 246.97,379.70 254.38,379.70 261.79,379.70" fill="none" stroke="#8ee070" stroke-width="0.65"/>
<rect x="44.96" y="348.50" width="3.7" height="3.5" fill="#72e04e"/>
<rect x="52.37" y="305.42" width="3.7" height="3.5" fill="#72e04e"/>
<rect x="59.78" y="295.15" width="3.7" height="3.5" fill="#72e04e"/>
<rect x="67.20" y="310.36" width="3.7" height="3.5" fill="#72e04e"/>
<rect x="74.61" y="319.06" width="3.7" height="3.5" fill="#72e04e"/>
<rect x="82.02" y="295.15" width="3.7" height="3.5" fill="#72e04e"/>
<rect x="89.44" y="301.67" width="3.7" height="3.5" fill="#72e04e"/>
<rect x="96.85" y="320.64" width="3.7" height="3.5" fill="#72e04e"/>
<rect x="104.26" y="316.49" width="3.7" height="3.5" fill="#72e04e"/>
<rect x="111.68" y="322.62" width="3.7" height="3.5" fill="#72e04e"/>
<rect x="119.09" y="329.33" width="3.7" height="3.5" fill="#72e04e"/>
<rect x="126.50" y="332.50" width="3.7" height="3.5" fill="#72e04e"/>
<rect x="133.92" y="342.77" width="3.7" height="3.5" fill="#72e04e"/>
<rect x="141.33" y="340.40" width="3.7" height="3.5" fill="#72e04e"/>
<rect x="148.74" y="357.00" width="3.7" height="3.5" fill="#72e04e"/>
<rect x="156.16" y="366.29" width="3.7" height="3.5" fill="#72e04e"/>
<rect x="163.57" y="369.45" width="3.7" height="3.5" fill="#72e04e"/>
<rect x="170.98" y="372.42" width="3.7" height="3.5" fill="#72e04e"/>
<rect x="178.40" y="376.57" width="3.7" height="3.5" fill="#72e04e"/>
<rect x="185.81" y="377.95" width="3.7" height="3.5" fill="#72e04e"/>
<rect x="193.22" y="377.95" width="3.7" height="3.5" fill="#72e04e"/>
<rect x="200.64" y="377.95" width="3.7" height="3.5" fill="#72e04e"/>
<rect x="208.05" y="377.95" width="3.7" height="3.5" fill="#72e04e"/>
<rect x="215.46" y="377.95" width="3.7" height="3.5" fill="#72e04e"/>
<rect x="222.88" y="377.95" width="3.7" height="3.5" fill="#72e04e"/>
<rect x="230.29" y="377.95" width="3.7" height="3.5" fill="#72e04e"/>
<rect x="237.70" y="377.95" width="3.7" height="3.5" fill="#72e04e"/>
<rect x="245.12" y="377.95" width="3.7" height="3.5" fill="#72e04e"/>
<rect x="252.53" y="377.95" width="3.7" height="3.5" fill="#72e04e"/>
<rect x="259.94" y="377.95" width="3.7" height="3.5" fill="#72e04e"/>
<polyline points="46.81,321.99 54.22,301.05 61.63,329.11 69.05,320.21 76.46,314.09 83.87,330.49 91.29,329.11 98.70,334.25 106.11,339.98 113.53,335.83 120.94,339.38 128.35,341.36 135.77,347.49 143.18,341.36 150.59,342.15 158.01,339.38 165.42,343.53 172.83,337.41 180.25,347.49 187.66,345.51 195.07,341.95 202.49,337.41 209.90,335.23 217.31,338.79 224.73,334.25 232.14,341.36 239.55,342.74 246.97,349.66 254.38,344.52 261.79,350.65" fill="none" stroke="#cd7f32" stroke-width="0.8"/>
<path d="M46.81,309.15V334.84M44.21,309.15H49.41M44.21,334.84H49.41" stroke="#b88550" stroke-width="0.8" fill="none"/>
<path d="M54.22,295.12V306.97M51.62,295.12H56.82M51.62,306.97H56.82" stroke="#b88550" stroke-width="0.8" fill="none"/>
<path d="M61.63,325.16V333.06M59.03,325.16H64.23M59.03,333.06H64.23" stroke="#b88550" stroke-width="0.8" fill="none"/>
<path d="M69.05,311.32V329.11M66.45,311.32H71.65M66.45,329.11H71.65" stroke="#b88550" stroke-width="0.8" fill="none"/>
<path d="M76.46,300.25V327.92M73.86,300.25H79.06M73.86,327.92H79.06" stroke="#b88550" stroke-width="0.8" fill="none"/>
<path d="M83.87,324.56V336.42M81.27,324.56H86.47M81.27,336.42H86.47" stroke="#b88550" stroke-width="0.8" fill="none"/>
<path d="M91.29,323.18V335.04M88.69,323.18H93.89M88.69,335.04H93.89" stroke="#b88550" stroke-width="0.8" fill="none"/>
<path d="M98.70,328.32V340.18M96.10,328.32H101.30M96.10,340.18H101.30" stroke="#b88550" stroke-width="0.8" fill="none"/>
<path d="M106.11,334.05V345.91M103.51,334.05H108.71M103.51,345.91H108.71" stroke="#b88550" stroke-width="0.8" fill="none"/>
<path d="M113.53,329.90V341.76M110.93,329.90H116.13M110.93,341.76H116.13" stroke="#b88550" stroke-width="0.8" fill="none"/>
<path d="M120.94,331.48V347.29M118.34,331.48H123.54M118.34,347.29H123.54" stroke="#b88550" stroke-width="0.8" fill="none"/>
<path d="M128.35,335.43V347.29M125.75,335.43H130.95M125.75,347.29H130.95" stroke="#b88550" stroke-width="0.8" fill="none"/>
<path d="M135.77,341.56V353.42M133.17,341.56H138.37M133.17,353.42H138.37" stroke="#b88550" stroke-width="0.8" fill="none"/>
<path d="M143.18,335.43V347.29M140.58,335.43H145.78M140.58,347.29H145.78" stroke="#b88550" stroke-width="0.8" fill="none"/>
<path d="M150.59,336.22V348.08M147.99,336.22H153.19M147.99,348.08H153.19" stroke="#b88550" stroke-width="0.8" fill="none"/>
<path d="M158.01,335.43V343.34M155.41,335.43H160.61M155.41,343.34H160.61" stroke="#b88550" stroke-width="0.8" fill="none"/>
<path d="M165.42,339.58V347.49M162.82,339.58H168.02M162.82,347.49H168.02" stroke="#b88550" stroke-width="0.8" fill="none"/>
<path d="M172.83,329.50V345.31M170.23,329.50H175.43M170.23,345.31H175.43" stroke="#b88550" stroke-width="0.8" fill="none"/>
<path d="M180.25,342.55V352.43M177.65,342.55H182.85M177.65,352.43H182.85" stroke="#b88550" stroke-width="0.8" fill="none"/>
<path d="M187.66,337.61V353.42M185.06,337.61H190.26M185.06,353.42H190.26" stroke="#b88550" stroke-width="0.8" fill="none"/>
<path d="M195.07,332.07V351.83M192.47,332.07H197.67M192.47,351.83H197.67" stroke="#b88550" stroke-width="0.8" fill="none"/>
<path d="M202.49,330.49V344.33M199.89,330.49H205.09M199.89,344.33H205.09" stroke="#b88550" stroke-width="0.8" fill="none"/>
<path d="M209.90,330.29V340.18M207.30,330.29H212.50M207.30,340.18H212.50" stroke="#b88550" stroke-width="0.8" fill="none"/>
<path d="M217.31,335.83V341.76M214.71,335.83H219.91M214.71,341.76H219.91" stroke="#b88550" stroke-width="0.8" fill="none"/>
<path d="M224.73,324.37V344.13M222.13,324.37H227.33M222.13,344.13H227.33" stroke="#b88550" stroke-width="0.8" fill="none"/>
<path d="M232.14,333.46V349.27M229.54,333.46H234.74M229.54,349.27H234.74" stroke="#b88550" stroke-width="0.8" fill="none"/>
<path d="M239.55,336.82V348.67M236.95,336.82H242.15M236.95,348.67H242.15" stroke="#b88550" stroke-width="0.8" fill="none"/>
<path d="M246.97,343.14V356.18M244.37,343.14H249.57M244.37,356.18H249.57" stroke="#b88550" stroke-width="0.8" fill="none"/>
<path d="M254.38,334.64V354.40M251.78,334.64H256.98M251.78,354.40H256.98" stroke="#b88550" stroke-width="0.8" fill="none"/>
<path d="M261.79,344.13V357.17M259.19,344.13H264.39M259.19,357.17H264.39" stroke="#b88550" stroke-width="0.8" fill="none"/>
<polygon points="46.81,319.79 49.31,323.69 44.31,323.69" fill="#cd7f32" stroke="#cd7f32" stroke-width="0.5"/>
<polygon points="54.22,298.85 56.72,302.75 51.72,302.75" fill="#cd7f32" stroke="#cd7f32" stroke-width="0.5"/>
<polygon points="61.63,326.91 64.13,330.81 59.13,330.81" fill="#cd7f32" stroke="#cd7f32" stroke-width="0.5"/>
<polygon points="69.05,318.01 71.55,321.91 66.55,321.91" fill="#cd7f32" stroke="#cd7f32" stroke-width="0.5"/>
<polygon points="76.46,311.89 78.96,315.79 73.96,315.79" fill="#cd7f32" stroke="#cd7f32" stroke-width="0.5"/>
<polygon points="83.87,328.29 86.37,332.19 81.37,332.19" fill="#cd7f32" stroke="#cd7f32" stroke-width="0.5"/>
<polygon points="91.29,326.91 93.79,330.81 88.79,330.81" fill="#cd7f32" stroke="#cd7f32" stroke-width="0.5"/>
<polygon points="98.70,332.05 101.20,335.95 96.20,335.95" fill="#cd7f32" stroke="#cd7f32" stroke-width="0.5"/>
<polygon points="106.11,337.78 108.61,341.68 103.61,341.68" fill="#cd7f32" stroke="#cd7f32" stroke-width="0.5"/>
<polygon points="113.53,333.63 116.03,337.53 111.03,337.53" fill="#cd7f32" stroke="#cd7f32" stroke-width="0.5"/>
<polygon points="120.94,337.18 123.44,341.08 118.44,341.08" fill="#cd7f32" stroke="#cd7f32" stroke-width="0.5"/>
<polygon points="128.35,339.16 130.85,343.06 125.85,343.06" fill="#cd7f32" stroke="#cd7f32" stroke-width="0.5"/>
<polygon points="135.77,345.29 138.27,349.19 133.27,349.19" fill="#cd7f32" stroke="#cd7f32" stroke-width="0.5"/>
<polygon points="143.18,339.16 145.68,343.06 140.68,343.06" fill="#cd7f32" stroke="#cd7f32" stroke-width="0.5"/>
<polygon points="150.59,339.95 153.09,343.85 148.09,343.85" fill="#cd7f32" stroke="#cd7f32" stroke-width="0.5"/>
<polygon points="158.01,337.18 160.51,341.08 155.51,341.08" fill="#cd7f32" stroke="#cd7f32" stroke-width="0.5"/>
<polygon points="165.42,341.33 167.92,345.23 162.92,345.23" fill="#cd7f32" stroke="#cd7f32" stroke-width="0.5"/>
<polygon points="172.83,335.21 175.33,339.11 170.33,339.11" fill="#cd7f32" stroke="#cd7f32" stroke-width="0.5"/>
<polygon points="180.25,345.29 182.75,349.19 177.75,349.19" fill="#cd7f32" stroke="#cd7f32" stroke-width="0.5"/>
<polygon points="187.66,343.31 190.16,347.21 185.16,347.21" fill="#cd7f32" stroke="#cd7f32" stroke-width="0.5"/>
<polygon points="195.07,339.75 197.57,343.65 192.57,343.65" fill="#cd7f32" stroke="#cd7f32" stroke-width="0.5"/>
<polygon points="202.49,335.21 204.99,339.11 199.99,339.11" fill="#cd7f32" stroke="#cd7f32" stroke-width="0.5"/>
<polygon points="209.90,333.03 212.40,336.93 207.40,336.93" fill="#cd7f32" stroke="#cd7f32" stroke-width="0.5"/>
<polygon points="217.31,336.59 219.81,340.49 214.81,340.49" fill="#cd7f32" stroke="#cd7f32" stroke-width="0.5"/>
<polygon points="224.73,332.05 227.23,335.95 222.23,335.95" fill="#cd7f32" stroke="#cd7f32" stroke-width="0.5"/>
<polygon points="232.14,339.16 234.64,343.06 229.64,343.06" fill="#cd7f32" stroke="#cd7f32" stroke-width="0.5"/>
<polygon points="239.55,340.54 242.05,344.44 237.05,344.44" fill="#cd7f32" stroke="#cd7f32" stroke-width="0.5"/>
<polygon points="246.97,347.46 249.47,351.36 244.47,351.36" fill="#cd7f32" stroke="#cd7f32" stroke-width="0.5"/>
<polygon points="254.38,342.32 256.88,346.22 251.88,346.22" fill="#cd7f32" stroke="#cd7f32" stroke-width="0.5"/>
<polygon points="261.79,348.45 264.29,352.35 259.29,352.35" fill="#cd7f32" stroke="#cd7f32" stroke-width="0.5"/>
<polyline points="46.81,300.06 54.22,276.94 61.63,293.93 69.05,274.37 76.46,290.77 83.87,309.15 91.29,285.63 98.70,277.53 106.11,292.75 113.53,322.39 120.94,328.32 128.35,342.15 135.77,340.18 143.18,302.03 150.59,339.38 158.01,344.52 165.42,355.79 172.83,366.06 180.25,374.17 187.66,378.71 195.07,379.70 202.49,379.70 209.90,379.70 217.31,379.70 224.73,379.70 232.14,379.70 239.55,379.70 246.97,379.70 254.38,379.70 261.79,379.70" fill="none" stroke="#5a5ac8" stroke-width="0.65"/>
<circle cx="46.81" cy="300.06" r="1.85" fill="#fff" stroke="#5a5ac8" stroke-width="0.7"/>
<circle cx="54.22" cy="276.94" r="1.85" fill="#fff" stroke="#5a5ac8" stroke-width="0.7"/>
<circle cx="61.63" cy="293.93" r="1.85" fill="#fff" stroke="#5a5ac8" stroke-width="0.7"/>
<circle cx="69.05" cy="274.37" r="1.85" fill="#fff" stroke="#5a5ac8" stroke-width="0.7"/>
<circle cx="76.46" cy="290.77" r="1.85" fill="#fff" stroke="#5a5ac8" stroke-width="0.7"/>
<circle cx="83.87" cy="309.15" r="1.85" fill="#fff" stroke="#5a5ac8" stroke-width="0.7"/>
<circle cx="91.29" cy="285.63" r="1.85" fill="#fff" stroke="#5a5ac8" stroke-width="0.7"/>
<circle cx="98.70" cy="277.53" r="1.85" fill="#fff" stroke="#5a5ac8" stroke-width="0.7"/>
<circle cx="106.11" cy="292.75" r="1.85" fill="#fff" stroke="#5a5ac8" stroke-width="0.7"/>
<circle cx="113.53" cy="322.39" r="1.85" fill="#fff" stroke="#5a5ac8" stroke-width="0.7"/>
<circle cx="120.94" cy="328.32" r="1.85" fill="#fff" stroke="#5a5ac8" stroke-width="0.7"/>
<circle cx="128.35" cy="342.15" r="1.85" fill="#fff" stroke="#5a5ac8" stroke-width="0.7"/>
<circle cx="135.77" cy="340.18" r="1.85" fill="#fff" stroke="#5a5ac8" stroke-width="0.7"/>
<circle cx="143.18" cy="302.03" r="1.85" fill="#fff" stroke="#5a5ac8" stroke-width="0.7"/>
<circle cx="150.59" cy="339.38" r="1.85" fill="#fff" stroke="#5a5ac8" stroke-width="0.7"/>
<circle cx="158.01" cy="344.52" r="1.85" fill="#fff" stroke="#5a5ac8" stroke-width="0.7"/>
<circle cx="165.42" cy="355.79" r="1.85" fill="#fff" stroke="#5a5ac8" stroke-width="0.7"/>
<circle cx="172.83" cy="366.06" r="1.85" fill="#fff" stroke="#5a5ac8" stroke-width="0.7"/>
<circle cx="180.25" cy="374.17" r="1.85" fill="#fff" stroke="#5a5ac8" stroke-width="0.7"/>
<circle cx="187.66" cy="378.71" r="1.85" fill="#fff" stroke="#5a5ac8" stroke-width="0.7"/>
<circle cx="195.07" cy="379.70" r="1.85" fill="#fff" stroke="#5a5ac8" stroke-width="0.7"/>
<circle cx="202.49" cy="379.70" r="1.85" fill="#fff" stroke="#5a5ac8" stroke-width="0.7"/>
<circle cx="209.90" cy="379.70" r="1.85" fill="#fff" stroke="#5a5ac8" stroke-width="0.7"/>
<circle cx="217.31" cy="379.70" r="1.85" fill="#fff" stroke="#5a5ac8" stroke-width="0.7"/>
<circle cx="224.73" cy="379.70" r="1.85" fill="#fff" stroke="#5a5ac8" stroke-width="0.7"/>
<circle cx="232.14" cy="379.70" r="1.85" fill="#fff" stroke="#5a5ac8" stroke-width="0.7"/>
<circle cx="239.55" cy="379.70" r="1.85" fill="#fff" stroke="#5a5ac8" stroke-width="0.7"/>
<circle cx="246.97" cy="379.70" r="1.85" fill="#fff" stroke="#5a5ac8" stroke-width="0.7"/>
<circle cx="254.38" cy="379.70" r="1.85" fill="#fff" stroke="#5a5ac8" stroke-width="0.7"/>
<circle cx="261.79" cy="379.70" r="1.85" fill="#fff" stroke="#5a5ac8" stroke-width="0.7"/>
<polyline points="46.81,251.84 54.22,264.09 61.63,273.97 69.05,290.37 76.46,295.91 83.87,313.30 91.29,295.91 98.70,285.04 106.11,301.05 113.53,318.63 120.94,330.89 128.35,329.11 135.77,302.23 143.18,332.07 150.59,336.22 158.01,355.79 165.42,364.88 172.83,373.18 180.25,377.72 187.66,379.11 195.07,379.70 202.49,379.70 209.90,379.70 217.31,379.70 224.73,379.70 232.14,379.70 239.55,379.70 246.97,379.70 254.38,379.70 261.79,379.70" fill="none" stroke="#8ee070" stroke-width="0.65"/>
<rect x="44.96" y="250.14" width="3.7" height="3.4" fill="#e6f6e0" stroke="#72d05a" stroke-width="0.7"/>
<rect x="52.37" y="262.39" width="3.7" height="3.4" fill="#e6f6e0" stroke="#72d05a" stroke-width="0.7"/>
<rect x="59.78" y="272.27" width="3.7" height="3.4" fill="#e6f6e0" stroke="#72d05a" stroke-width="0.7"/>
<rect x="67.20" y="288.67" width="3.7" height="3.4" fill="#e6f6e0" stroke="#72d05a" stroke-width="0.7"/>
<rect x="74.61" y="294.21" width="3.7" height="3.4" fill="#e6f6e0" stroke="#72d05a" stroke-width="0.7"/>
<rect x="82.02" y="311.60" width="3.7" height="3.4" fill="#e6f6e0" stroke="#72d05a" stroke-width="0.7"/>
<rect x="89.44" y="294.21" width="3.7" height="3.4" fill="#e6f6e0" stroke="#72d05a" stroke-width="0.7"/>
<rect x="96.85" y="283.34" width="3.7" height="3.4" fill="#e6f6e0" stroke="#72d05a" stroke-width="0.7"/>
<rect x="104.26" y="299.35" width="3.7" height="3.4" fill="#e6f6e0" stroke="#72d05a" stroke-width="0.7"/>
<rect x="111.68" y="316.93" width="3.7" height="3.4" fill="#e6f6e0" stroke="#72d05a" stroke-width="0.7"/>
<rect x="119.09" y="329.19" width="3.7" height="3.4" fill="#e6f6e0" stroke="#72d05a" stroke-width="0.7"/>
<rect x="126.50" y="327.41" width="3.7" height="3.4" fill="#e6f6e0" stroke="#72d05a" stroke-width="0.7"/>
<rect x="133.92" y="300.53" width="3.7" height="3.4" fill="#e6f6e0" stroke="#72d05a" stroke-width="0.7"/>
<rect x="141.33" y="330.37" width="3.7" height="3.4" fill="#e6f6e0" stroke="#72d05a" stroke-width="0.7"/>
<rect x="148.74" y="334.52" width="3.7" height="3.4" fill="#e6f6e0" stroke="#72d05a" stroke-width="0.7"/>
<rect x="156.16" y="354.09" width="3.7" height="3.4" fill="#e6f6e0" stroke="#72d05a" stroke-width="0.7"/>
<rect x="163.57" y="363.18" width="3.7" height="3.4" fill="#e6f6e0" stroke="#72d05a" stroke-width="0.7"/>
<rect x="170.98" y="371.48" width="3.7" height="3.4" fill="#e6f6e0" stroke="#72d05a" stroke-width="0.7"/>
<rect x="178.40" y="376.02" width="3.7" height="3.4" fill="#e6f6e0" stroke="#72d05a" stroke-width="0.7"/>
<rect x="185.81" y="377.41" width="3.7" height="3.4" fill="#e6f6e0" stroke="#72d05a" stroke-width="0.7"/>
<rect x="193.22" y="378.00" width="3.7" height="3.4" fill="#e6f6e0" stroke="#72d05a" stroke-width="0.7"/>
<rect x="200.64" y="378.00" width="3.7" height="3.4" fill="#e6f6e0" stroke="#72d05a" stroke-width="0.7"/>
<rect x="208.05" y="378.00" width="3.7" height="3.4" fill="#e6f6e0" stroke="#72d05a" stroke-width="0.7"/>
<rect x="215.46" y="378.00" width="3.7" height="3.4" fill="#e6f6e0" stroke="#72d05a" stroke-width="0.7"/>
<rect x="222.88" y="378.00" width="3.7" height="3.4" fill="#e6f6e0" stroke="#72d05a" stroke-width="0.7"/>
<rect x="230.29" y="378.00" width="3.7" height="3.4" fill="#e6f6e0" stroke="#72d05a" stroke-width="0.7"/>
<rect x="237.70" y="378.00" width="3.7" height="3.4" fill="#e6f6e0" stroke="#72d05a" stroke-width="0.7"/>
<rect x="245.12" y="378.00" width="3.7" height="3.4" fill="#e6f6e0" stroke="#72d05a" stroke-width="0.7"/>
<rect x="252.53" y="378.00" width="3.7" height="3.4" fill="#e6f6e0" stroke="#72d05a" stroke-width="0.7"/>
<rect x="259.94" y="378.00" width="3.7" height="3.4" fill="#e6f6e0" stroke="#72d05a" stroke-width="0.7"/>
</g>
<text x="1.0" y="231.7" font-size="13" font-weight="bold" fill="#000" stroke="#000" stroke-width="0.3">B</text>
<text transform="translate(20.5,302.4) rotate(-90)" text-anchor="middle" font-size="9.7" fill="#111" stroke="#111" stroke-width="0.35">Δ E<tspan font-size="7.5" dx="0.5" dy="4.5" stroke-width="0.12">ds</tspan><tspan dy="-4.5"> [kcal/mol]</tspan></text>
<text x="153" y="409.3" text-anchor="middle" font-size="9.7" fill="#111" stroke="#111" stroke-width="0.35">d<tspan font-size="7" dx="1" dy="4.5" stroke-width="0.12">1-2</tspan><tspan dy="-4.5"> [A]</tspan></text>
<rect x="331.5" y="221.4" width="222.0" height="158.20000000000002" fill="#fff" stroke="#606060" stroke-width="1"/>
<line x1="331.50" y1="379.6" x2="331.50" y2="377.1" stroke="#606060" stroke-width="0.8"/>
<line x1="331.50" y1="221.4" x2="331.50" y2="223.9" stroke="#606060" stroke-width="0.8"/>
<text transform="translate(331.50,393.30) scale(1,1.06)" text-anchor="middle" font-size="9" fill="#111" stroke="#111" stroke-width="0.4">40</text>
<line x1="368.50" y1="379.6" x2="368.50" y2="377.1" stroke="#606060" stroke-width="0.8"/>
<line x1="368.50" y1="221.4" x2="368.50" y2="223.9" stroke="#606060" stroke-width="0.8"/>
<text transform="translate(368.50,393.30) scale(1,1.06)" text-anchor="middle" font-size="9" fill="#111" stroke="#111" stroke-width="0.4">50</text>
<line x1="405.50" y1="379.6" x2="405.50" y2="377.1" stroke="#606060" stroke-width="0.8"/>
<line x1="405.50" y1="221.4" x2="405.50" y2="223.9" stroke="#606060" stroke-width="0.8"/>
<text transform="translate(405.50,393.30) scale(1,1.06)" text-anchor="middle" font-size="9" fill="#111" stroke="#111" stroke-width="0.4">60</text>
<line x1="442.50" y1="379.6" x2="442.50" y2="377.1" stroke="#606060" stroke-width="0.8"/>
<line x1="442.50" y1="221.4" x2="442.50" y2="223.9" stroke="#606060" stroke-width="0.8"/>
<text transform="translate(442.50,393.30) scale(1,1.06)" text-anchor="middle" font-size="9" fill="#111" stroke="#111" stroke-width="0.4">70</text>
<line x1="479.50" y1="379.6" x2="479.50" y2="377.1" stroke="#606060" stroke-width="0.8"/>
<line x1="479.50" y1="221.4" x2="479.50" y2="223.9" stroke="#606060" stroke-width="0.8"/>
<text transform="translate(479.50,393.30) scale(1,1.06)" text-anchor="middle" font-size="9" fill="#111" stroke="#111" stroke-width="0.4">80</text>
<line x1="516.50" y1="379.6" x2="516.50" y2="377.1" stroke="#606060" stroke-width="0.8"/>
<line x1="516.50" y1="221.4" x2="516.50" y2="223.9" stroke="#606060" stroke-width="0.8"/>
<text transform="translate(516.50,393.30) scale(1,1.06)" text-anchor="middle" font-size="9" fill="#111" stroke="#111" stroke-width="0.4">90</text>
<line x1="553.50" y1="379.6" x2="553.50" y2="377.1" stroke="#606060" stroke-width="0.8"/>
<line x1="553.50" y1="221.4" x2="553.50" y2="223.9" stroke="#606060" stroke-width="0.8"/>
<text transform="translate(553.50,393.30) scale(1,1.06)" text-anchor="middle" font-size="9" fill="#111" stroke="#111" stroke-width="0.4">100</text>
<line x1="331.5" y1="379.60" x2="334.0" y2="379.60" stroke="#606060" stroke-width="0.8"/>
<line x1="553.5" y1="379.60" x2="551.0" y2="379.60" stroke="#606060" stroke-width="0.8"/>
<text transform="translate(328.50,383.60) scale(1,1.06)" text-anchor="end" font-size="9" fill="#111" stroke="#111" stroke-width="0.4">-15</text>
<line x1="331.5" y1="344.60" x2="334.0" y2="344.60" stroke="#606060" stroke-width="0.8"/>
<line x1="553.5" y1="344.60" x2="551.0" y2="344.60" stroke="#606060" stroke-width="0.8"/>
<text transform="translate(328.50,348.60) scale(1,1.06)" text-anchor="end" font-size="9" fill="#111" stroke="#111" stroke-width="0.4">-10</text>
<line x1="331.5" y1="309.60" x2="334.0" y2="309.60" stroke="#606060" stroke-width="0.8"/>
<line x1="553.5" y1="309.60" x2="551.0" y2="309.60" stroke="#606060" stroke-width="0.8"/>
<text transform="translate(328.50,313.60) scale(1,1.06)" text-anchor="end" font-size="9" fill="#111" stroke="#111" stroke-width="0.4">-5</text>
<line x1="331.5" y1="274.60" x2="334.0" y2="274.60" stroke="#606060" stroke-width="0.8"/>
<line x1="553.5" y1="274.60" x2="551.0" y2="274.60" stroke="#606060" stroke-width="0.8"/>
<text transform="translate(328.50,278.60) scale(1,1.06)" text-anchor="end" font-size="9" fill="#111" stroke="#111" stroke-width="0.4">0</text>
<line x1="331.5" y1="239.60" x2="334.0" y2="239.60" stroke="#606060" stroke-width="0.8"/>
<line x1="553.5" y1="239.60" x2="551.0" y2="239.60" stroke="#606060" stroke-width="0.8"/>
<text transform="translate(328.50,243.60) scale(1,1.06)" text-anchor="end" font-size="9" fill="#111" stroke="#111" stroke-width="0.4">5</text>
<clipPath id="cD"><rect x="331.5" y="221.4" width="222.0" height="158.20000000000002"/></clipPath>
<g>
<polyline points="335.20,350.62 342.60,373.30 350.00,367.42 357.40,357.13 364.80,365.25 372.20,363.64 379.60,358.74 387.00,356.50 394.40,348.66 401.80,344.60 409.20,344.60 416.60,341.45 424.00,333.68 431.40,338.37 438.80,339.42 446.20,342.50 453.60,339.21 461.00,334.66 468.40,337.11 475.80,337.11 483.20,339.21 490.60,337.11 498.00,341.24 505.40,338.37 512.80,337.11 520.20,337.11 527.60,335.71 535.00,333.61 542.40,330.60 549.80,329.55" fill="none" stroke="#dca266" stroke-width="0.65"/>
<polygon points="335.20,348.32 337.80,352.42 332.60,352.42" fill="#fff" stroke="#dca266" stroke-width="0.75"/>
<polygon points="342.60,371.00 345.20,375.10 340.00,375.10" fill="#fff" stroke="#dca266" stroke-width="0.75"/>
<polygon points="350.00,365.12 352.60,369.22 347.40,369.22" fill="#fff" stroke="#dca266" stroke-width="0.75"/>
<polygon points="357.40,354.83 360.00,358.93 354.80,358.93" fill="#fff" stroke="#dca266" stroke-width="0.75"/>
<polygon points="364.80,362.95 367.40,367.05 362.20,367.05" fill="#fff" stroke="#dca266" stroke-width="0.75"/>
<polygon points="372.20,361.34 374.80,365.44 369.60,365.44" fill="#fff" stroke="#dca266" stroke-width="0.75"/>
<polygon points="379.60,356.44 382.20,360.54 377.00,360.54" fill="#fff" stroke="#dca266" stroke-width="0.75"/>
<polygon points="387.00,354.20 389.60,358.30 384.40,358.30" fill="#fff" stroke="#dca266" stroke-width="0.75"/>
<polygon points="394.40,346.36 397.00,350.46 391.80,350.46" fill="#fff" stroke="#dca266" stroke-width="0.75"/>
<polygon points="401.80,342.30 404.40,346.40 399.20,346.40" fill="#fff" stroke="#dca266" stroke-width="0.75"/>
<polygon points="409.20,342.30 411.80,346.40 406.60,346.40" fill="#fff" stroke="#dca266" stroke-width="0.75"/>
<polygon points="416.60,339.15 419.20,343.25 414.00,343.25" fill="#fff" stroke="#dca266" stroke-width="0.75"/>
<polygon points="424.00,331.38 426.60,335.48 421.40,335.48" fill="#fff" stroke="#dca266" stroke-width="0.75"/>
<polygon points="431.40,336.07 434.00,340.17 428.80,340.17" fill="#fff" stroke="#dca266" stroke-width="0.75"/>
<polygon points="438.80,337.12 441.40,341.22 436.20,341.22" fill="#fff" stroke="#dca266" stroke-width="0.75"/>
<polygon points="446.20,340.20 448.80,344.30 443.60,344.30" fill="#fff" stroke="#dca266" stroke-width="0.75"/>
<polygon points="453.60,336.91 456.20,341.01 451.00,341.01" fill="#fff" stroke="#dca266" stroke-width="0.75"/>
<polygon points="461.00,332.36 463.60,336.46 458.40,336.46" fill="#fff" stroke="#dca266" stroke-width="0.75"/>
<polygon points="468.40,334.81 471.00,338.91 465.80,338.91" fill="#fff" stroke="#dca266" stroke-width="0.75"/>
<polygon points="475.80,334.81 478.40,338.91 473.20,338.91" fill="#fff" stroke="#dca266" stroke-width="0.75"/>
<polygon points="483.20,336.91 485.80,341.01 480.60,341.01" fill="#fff" stroke="#dca266" stroke-width="0.75"/>
<polygon points="490.60,334.81 493.20,338.91 488.00,338.91" fill="#fff" stroke="#dca266" stroke-width="0.75"/>
<polygon points="498.00,338.94 500.60,343.04 495.40,343.04" fill="#fff" stroke="#dca266" stroke-width="0.75"/>
<polygon points="505.40,336.07 508.00,340.17 502.80,340.17" fill="#fff" stroke="#dca266" stroke-width="0.75"/>
<polygon points="512.80,334.81 515.40,338.91 510.20,338.91" fill="#fff" stroke="#dca266" stroke-width="0.75"/>
<polygon points="520.20,334.81 522.80,338.91 517.60,338.91" fill="#fff" stroke="#dca266" stroke-width="0.75"/>
<polygon points="527.60,333.41 530.20,337.51 525.00,337.51" fill="#fff" stroke="#dca266" stroke-width="0.75"/>
<polygon points="535.00,331.31 537.60,335.41 532.40,335.41" fill="#fff" stroke="#dca266" stroke-width="0.75"/>
<polygon points="542.40,328.30 545.00,332.40 539.80,332.40" fill="#fff" stroke="#dca266" stroke-width="0.75"/>
<polygon points="549.80,327.25 552.40,331.35 547.20,331.35" fill="#fff" stroke="#dca266" stroke-width="0.75"/>
<polyline points="335.20,285.73 342.60,320.80 350.00,325.07 357.40,323.60 364.80,322.90 372.20,322.90 379.60,323.60 387.00,321.50 394.40,319.75 401.80,317.30 409.20,313.80 416.60,309.60 424.00,305.40 431.40,301.90 438.80,298.19 446.20,293.85 453.60,289.30 461.00,285.80 468.40,282.30 475.80,279.50 483.20,277.05 490.60,275.65 498.00,274.95 505.40,274.60 512.80,274.60 520.20,274.60 527.60,274.60 535.00,274.60 542.40,274.60 549.80,274.60" fill="none" stroke="#1a1ab4" stroke-width="0.65"/>
<circle cx="335.20" cy="285.73" r="1.75" fill="#1a1ab4"/>
<circle cx="342.60" cy="320.80" r="1.75" fill="#1a1ab4"/>
<circle cx="350.00" cy="325.07" r="1.75" fill="#1a1ab4"/>
<circle cx="357.40" cy="323.60" r="1.75" fill="#1a1ab4"/>
<circle cx="364.80" cy="322.90" r="1.75" fill="#1a1ab4"/>
<circle cx="372.20" cy="322.90" r="1.75" fill="#1a1ab4"/>
<circle cx="379.60" cy="323.60" r="1.75" fill="#1a1ab4"/>
<circle cx="387.00" cy="321.50" r="1.75" fill="#1a1ab4"/>
<circle cx="394.40" cy="319.75" r="1.75" fill="#1a1ab4"/>
<circle cx="401.80" cy="317.30" r="1.75" fill="#1a1ab4"/>
<circle cx="409.20" cy="313.80" r="1.75" fill="#1a1ab4"/>
<circle cx="416.60" cy="309.60" r="1.75" fill="#1a1ab4"/>
<circle cx="424.00" cy="305.40" r="1.75" fill="#1a1ab4"/>
<circle cx="431.40" cy="301.90" r="1.75" fill="#1a1ab4"/>
<circle cx="438.80" cy="298.19" r="1.75" fill="#1a1ab4"/>
<circle cx="446.20" cy="293.85" r="1.75" fill="#1a1ab4"/>
<circle cx="453.60" cy="289.30" r="1.75" fill="#1a1ab4"/>
<circle cx="461.00" cy="285.80" r="1.75" fill="#1a1ab4"/>
<circle cx="468.40" cy="282.30" r="1.75" fill="#1a1ab4"/>
<circle cx="475.80" cy="279.50" r="1.75" fill="#1a1ab4"/>
<circle cx="483.20" cy="277.05" r="1.75" fill="#1a1ab4"/>
<circle cx="490.60" cy="275.65" r="1.75" fill="#1a1ab4"/>
<circle cx="498.00" cy="274.95" r="1.75" fill="#1a1ab4"/>
<circle cx="505.40" cy="274.60" r="1.75" fill="#1a1ab4"/>
<circle cx="512.80" cy="274.60" r="1.75" fill="#1a1ab4"/>
<circle cx="520.20" cy="274.60" r="1.75" fill="#1a1ab4"/>
<circle cx="527.60" cy="274.60" r="1.75" fill="#1a1ab4"/>
<circle cx="535.00" cy="274.60" r="1.75" fill="#1a1ab4"/>
<circle cx="542.40" cy="274.60" r="1.75" fill="#1a1ab4"/>
<circle cx="549.80" cy="274.60" r="1.75" fill="#1a1ab4"/>
<polyline points="335.20,234.00 342.60,312.75 350.00,322.90 357.40,324.02 364.80,322.20 372.20,321.57 379.60,321.99 387.00,320.10 394.40,318.49 401.80,315.62 409.20,311.84 416.60,307.50 424.00,303.02 431.40,299.24 438.80,295.46 446.20,291.05 453.60,286.64 461.00,283.56 468.40,280.20 475.80,278.45 483.20,276.70 490.60,275.37 498.00,274.81 505.40,274.60 512.80,274.60 520.20,274.60 527.60,274.60 535.00,274.60 542.40,274.60 549.80,274.60" fill="none" stroke="#8ee070" stroke-width="0.65"/>
<rect x="333.35" y="232.25" width="3.7" height="3.5" fill="#72e04e"/>
<rect x="340.75" y="311.00" width="3.7" height="3.5" fill="#72e04e"/>
<rect x="348.15" y="321.15" width="3.7" height="3.5" fill="#72e04e"/>
<rect x="355.55" y="322.27" width="3.7" height="3.5" fill="#72e04e"/>
<rect x="362.95" y="320.45" width="3.7" height="3.5" fill="#72e04e"/>
<rect x="370.35" y="319.82" width="3.7" height="3.5" fill="#72e04e"/>
<rect x="377.75" y="320.24" width="3.7" height="3.5" fill="#72e04e"/>
<rect x="385.15" y="318.35" width="3.7" height="3.5" fill="#72e04e"/>
<rect x="392.55" y="316.74" width="3.7" height="3.5" fill="#72e04e"/>
<rect x="399.95" y="313.87" width="3.7" height="3.5" fill="#72e04e"/>
<rect x="407.35" y="310.09" width="3.7" height="3.5" fill="#72e04e"/>
<rect x="414.75" y="305.75" width="3.7" height="3.5" fill="#72e04e"/>
<rect x="422.15" y="301.27" width="3.7" height="3.5" fill="#72e04e"/>
<rect x="429.55" y="297.49" width="3.7" height="3.5" fill="#72e04e"/>
<rect x="436.95" y="293.71" width="3.7" height="3.5" fill="#72e04e"/>
<rect x="444.35" y="289.30" width="3.7" height="3.5" fill="#72e04e"/>
<rect x="451.75" y="284.89" width="3.7" height="3.5" fill="#72e04e"/>
<rect x="459.15" y="281.81" width="3.7" height="3.5" fill="#72e04e"/>
<rect x="466.55" y="278.45" width="3.7" height="3.5" fill="#72e04e"/>
<rect x="473.95" y="276.70" width="3.7" height="3.5" fill="#72e04e"/>
<rect x="481.35" y="274.95" width="3.7" height="3.5" fill="#72e04e"/>
<rect x="488.75" y="273.62" width="3.7" height="3.5" fill="#72e04e"/>
<rect x="496.15" y="273.06" width="3.7" height="3.5" fill="#72e04e"/>
<rect x="503.55" y="272.85" width="3.7" height="3.5" fill="#72e04e"/>
<rect x="510.95" y="272.85" width="3.7" height="3.5" fill="#72e04e"/>
<rect x="518.35" y="272.85" width="3.7" height="3.5" fill="#72e04e"/>
<rect x="525.75" y="272.85" width="3.7" height="3.5" fill="#72e04e"/>
<rect x="533.15" y="272.85" width="3.7" height="3.5" fill="#72e04e"/>
<rect x="540.55" y="272.85" width="3.7" height="3.5" fill="#72e04e"/>
<rect x="547.95" y="272.85" width="3.7" height="3.5" fill="#72e04e"/>
<polyline points="335.20,302.95 342.60,321.99 350.00,321.99 357.40,323.04 364.80,323.04 372.20,324.02 379.60,324.02 387.00,321.01 394.40,319.40 401.80,318.70 409.20,315.90 416.60,313.10 424.00,309.04 431.40,309.04 438.80,312.54 446.20,312.47 453.60,309.81 461.00,309.18 468.40,308.55 475.80,307.43 483.20,308.62 490.60,310.65 498.00,312.54 505.40,310.51 512.80,309.04 520.20,312.12 527.60,310.09 535.00,308.62 542.40,307.64 549.80,305.61" fill="none" stroke="#cd7f32" stroke-width="0.8"/>
<path d="M335.20,297.00V308.90M332.60,297.00H337.80M332.60,308.90H337.80" stroke="#b88550" stroke-width="0.8" fill="none"/>
<path d="M342.60,319.89V324.09M340.00,319.89H345.20M340.00,324.09H345.20" stroke="#b88550" stroke-width="0.8" fill="none"/>
<path d="M350.00,319.89V324.09M347.40,319.89H352.60M347.40,324.09H352.60" stroke="#b88550" stroke-width="0.8" fill="none"/>
<path d="M357.40,320.94V325.14M354.80,320.94H360.00M354.80,325.14H360.00" stroke="#b88550" stroke-width="0.8" fill="none"/>
<path d="M364.80,320.94V325.14M362.20,320.94H367.40M362.20,325.14H367.40" stroke="#b88550" stroke-width="0.8" fill="none"/>
<path d="M372.20,321.92V326.12M369.60,321.92H374.80M369.60,326.12H374.80" stroke="#b88550" stroke-width="0.8" fill="none"/>
<path d="M379.60,321.92V326.12M377.00,321.92H382.20M377.00,326.12H382.20" stroke="#b88550" stroke-width="0.8" fill="none"/>
<path d="M387.00,318.91V323.11M384.40,318.91H389.60M384.40,323.11H389.60" stroke="#b88550" stroke-width="0.8" fill="none"/>
<path d="M394.40,317.30V321.50M391.80,317.30H397.00M391.80,321.50H397.00" stroke="#b88550" stroke-width="0.8" fill="none"/>
<path d="M401.80,316.60V320.80M399.20,316.60H404.40M399.20,320.80H404.40" stroke="#b88550" stroke-width="0.8" fill="none"/>
<path d="M409.20,313.80V318.00M406.60,313.80H411.80M406.60,318.00H411.80" stroke="#b88550" stroke-width="0.8" fill="none"/>
<path d="M416.60,311.00V315.20M414.00,311.00H419.20M414.00,315.20H419.20" stroke="#b88550" stroke-width="0.8" fill="none"/>
<path d="M424.00,306.94V311.14M421.40,306.94H426.60M421.40,311.14H426.60" stroke="#b88550" stroke-width="0.8" fill="none"/>
<path d="M431.40,306.94V311.14M428.80,306.94H434.00M428.80,311.14H434.00" stroke="#b88550" stroke-width="0.8" fill="none"/>
<path d="M438.80,310.44V314.64M436.20,310.44H441.40M436.20,314.64H441.40" stroke="#b88550" stroke-width="0.8" fill="none"/>
<path d="M446.20,310.37V314.57M443.60,310.37H448.80M443.60,314.57H448.80" stroke="#b88550" stroke-width="0.8" fill="none"/>
<path d="M453.60,307.71V311.91M451.00,307.71H456.20M451.00,311.91H456.20" stroke="#b88550" stroke-width="0.8" fill="none"/>
<path d="M461.00,307.08V311.28M458.40,307.08H463.60M458.40,311.28H463.60" stroke="#b88550" stroke-width="0.8" fill="none"/>
<path d="M468.40,306.45V310.65M465.80,306.45H471.00M465.80,310.65H471.00" stroke="#b88550" stroke-width="0.8" fill="none"/>
<path d="M475.80,305.33V309.53M473.20,305.33H478.40M473.20,309.53H478.40" stroke="#b88550" stroke-width="0.8" fill="none"/>
<path d="M483.20,306.52V310.72M480.60,306.52H485.80M480.60,310.72H485.80" stroke="#b88550" stroke-width="0.8" fill="none"/>
<path d="M490.60,308.55V312.75M488.00,308.55H493.20M488.00,312.75H493.20" stroke="#b88550" stroke-width="0.8" fill="none"/>
<path d="M498.00,310.44V314.64M495.40,310.44H500.60M495.40,314.64H500.60" stroke="#b88550" stroke-width="0.8" fill="none"/>
<path d="M505.40,308.41V312.61M502.80,308.41H508.00M502.80,312.61H508.00" stroke="#b88550" stroke-width="0.8" fill="none"/>
<path d="M512.80,306.94V311.14M510.20,306.94H515.40M510.20,311.14H515.40" stroke="#b88550" stroke-width="0.8" fill="none"/>
<path d="M520.20,310.02V314.22M517.60,310.02H522.80M517.60,314.22H522.80" stroke="#b88550" stroke-width="0.8" fill="none"/>
<path d="M527.60,307.99V312.19M525.00,307.99H530.20M525.00,312.19H530.20" stroke="#b88550" stroke-width="0.8" fill="none"/>
<path d="M535.00,306.52V310.72M532.40,306.52H537.60M532.40,310.72H537.60" stroke="#b88550" stroke-width="0.8" fill="none"/>
<path d="M542.40,305.54V309.74M539.80,305.54H545.00M539.80,309.74H545.00" stroke="#b88550" stroke-width="0.8" fill="none"/>
<path d="M549.80,303.51V307.71M547.20,303.51H552.40M547.20,307.71H552.40" stroke="#b88550" stroke-width="0.8" fill="none"/>
<polygon points="335.20,300.75 337.70,304.65 332.70,304.65" fill="#cd7f32" stroke="#cd7f32" stroke-width="0.5"/>
<polygon points="342.60,319.79 345.10,323.69 340.10,323.69" fill="#cd7f32" stroke="#cd7f32" stroke-width="0.5"/>
<polygon points="350.00,319.79 352.50,323.69 347.50,323.69" fill="#cd7f32" stroke="#cd7f32" stroke-width="0.5"/>
<polygon points="357.40,320.84 359.90,324.74 354.90,324.74" fill="#cd7f32" stroke="#cd7f32" stroke-width="0.5"/>
<polygon points="364.80,320.84 367.30,324.74 362.30,324.74" fill="#cd7f32" stroke="#cd7f32" stroke-width="0.5"/>
<polygon points="372.20,321.82 374.70,325.72 369.70,325.72" fill="#cd7f32" stroke="#cd7f32" stroke-width="0.5"/>
<polygon points="379.60,321.82 382.10,325.72 377.10,325.72" fill="#cd7f32" stroke="#cd7f32" stroke-width="0.5"/>
<polygon points="387.00,318.81 389.50,322.71 384.50,322.71" fill="#cd7f32" stroke="#cd7f32" stroke-width="0.5"/>
<polygon points="394.40,317.20 396.90,321.10 391.90,321.10" fill="#cd7f32" stroke="#cd7f32" stroke-width="0.5"/>
<polygon points="401.80,316.50 404.30,320.40 399.30,320.40" fill="#cd7f32" stroke="#cd7f32" stroke-width="0.5"/>
<polygon points="409.20,313.70 411.70,317.60 406.70,317.60" fill="#cd7f32" stroke="#cd7f32" stroke-width="0.5"/>
<polygon points="416.60,310.90 419.10,314.80 414.10,314.80" fill="#cd7f32" stroke="#cd7f32" stroke-width="0.5"/>
<polygon points="424.00,306.84 426.50,310.74 421.50,310.74" fill="#cd7f32" stroke="#cd7f32" stroke-width="0.5"/>
<polygon points="431.40,306.84 433.90,310.74 428.90,310.74" fill="#cd7f32" stroke="#cd7f32" stroke-width="0.5"/>
<polygon points="438.80,310.34 441.30,314.24 436.30,314.24" fill="#cd7f32" stroke="#cd7f32" stroke-width="0.5"/>
<polygon points="446.20,310.27 448.70,314.17 443.70,314.17" fill="#cd7f32" stroke="#cd7f32" stroke-width="0.5"/>
<polygon points="453.60,307.61 456.10,311.51 451.10,311.51" fill="#cd7f32" stroke="#cd7f32" stroke-width="0.5"/>
<polygon points="461.00,306.98 463.50,310.88 458.50,310.88" fill="#cd7f32" stroke="#cd7f32" stroke-width="0.5"/>
<polygon points="468.40,306.35 470.90,310.25 465.90,310.25" fill="#cd7f32" stroke="#cd7f32" stroke-width="0.5"/>
<polygon points="475.80,305.23 478.30,309.13 473.30,309.13" fill="#cd7f32" stroke="#cd7f32" stroke-width="0.5"/>
<polygon points="483.20,306.42 485.70,310.32 480.70,310.32" fill="#cd7f32" stroke="#cd7f32" stroke-width="0.5"/>
<polygon points="490.60,308.45 493.10,312.35 488.10,312.35" fill="#cd7f32" stroke="#cd7f32" stroke-width="0.5"/>
<polygon points="498.00,310.34 500.50,314.24 495.50,314.24" fill="#cd7f32" stroke="#cd7f32" stroke-width="0.5"/>
<polygon points="505.40,308.31 507.90,312.21 502.90,312.21" fill="#cd7f32" stroke="#cd7f32" stroke-width="0.5"/>
<polygon points="512.80,306.84 515.30,310.74 510.30,310.74" fill="#cd7f32" stroke="#cd7f32" stroke-width="0.5"/>
<polygon points="520.20,309.92 522.70,313.82 517.70,313.82" fill="#cd7f32" stroke="#cd7f32" stroke-width="0.5"/>
<polygon points="527.60,307.89 530.10,311.79 525.10,311.79" fill="#cd7f32" stroke="#cd7f32" stroke-width="0.5"/>
<polygon points="535.00,306.42 537.50,310.32 532.50,310.32" fill="#cd7f32" stroke="#cd7f32" stroke-width="0.5"/>
<polygon points="542.40,305.44 544.90,309.34 539.90,309.34" fill="#cd7f32" stroke="#cd7f32" stroke-width="0.5"/>
<polygon points="549.80,303.41 552.30,307.31 547.30,307.31" fill="#cd7f32" stroke="#cd7f32" stroke-width="0.5"/>
<polyline points="335.20,344.11 342.60,360.91 350.00,362.59 357.40,355.10 364.80,349.50 372.20,344.60 379.60,341.10 387.00,339.42 394.40,335.29 401.80,329.20 409.20,326.12 416.60,319.96 424.00,316.88 431.40,316.46 438.80,312.05 446.20,308.20 453.60,300.99 461.00,293.85 468.40,287.13 475.80,282.51 483.20,278.59 490.60,276.35 498.00,275.16 505.40,274.60 512.80,274.60 520.20,274.60 527.60,274.60 535.00,274.60 542.40,274.60 549.80,274.60" fill="none" stroke="#5a5ac8" stroke-width="0.65"/>
<circle cx="335.20" cy="344.11" r="1.85" fill="#fff" stroke="#5a5ac8" stroke-width="0.7"/>
<circle cx="342.60" cy="360.91" r="1.85" fill="#fff" stroke="#5a5ac8" stroke-width="0.7"/>
<circle cx="350.00" cy="362.59" r="1.85" fill="#fff" stroke="#5a5ac8" stroke-width="0.7"/>
<circle cx="357.40" cy="355.10" r="1.85" fill="#fff" stroke="#5a5ac8" stroke-width="0.7"/>
<circle cx="364.80" cy="349.50" r="1.85" fill="#fff" stroke="#5a5ac8" stroke-width="0.7"/>
<circle cx="372.20" cy="344.60" r="1.85" fill="#fff" stroke="#5a5ac8" stroke-width="0.7"/>
<circle cx="379.60" cy="341.10" r="1.85" fill="#fff" stroke="#5a5ac8" stroke-width="0.7"/>
<circle cx="387.00" cy="339.42" r="1.85" fill="#fff" stroke="#5a5ac8" stroke-width="0.7"/>
<circle cx="394.40" cy="335.29" r="1.85" fill="#fff" stroke="#5a5ac8" stroke-width="0.7"/>
<circle cx="401.80" cy="329.20" r="1.85" fill="#fff" stroke="#5a5ac8" stroke-width="0.7"/>
<circle cx="409.20" cy="326.12" r="1.85" fill="#fff" stroke="#5a5ac8" stroke-width="0.7"/>
<circle cx="416.60" cy="319.96" r="1.85" fill="#fff" stroke="#5a5ac8" stroke-width="0.7"/>
<circle cx="424.00" cy="316.88" r="1.85" fill="#fff" stroke="#5a5ac8" stroke-width="0.7"/>
<circle cx="431.40" cy="316.46" r="1.85" fill="#fff" stroke="#5a5ac8" stroke-width="0.7"/>
<circle cx="438.80" cy="312.05" r="1.85" fill="#fff" stroke="#5a5ac8" stroke-width="0.7"/>
<circle cx="446.20" cy="308.20" r="1.85" fill="#fff" stroke="#5a5ac8" stroke-width="0.7"/>
<circle cx="453.60" cy="300.99" r="1.85" fill="#fff" stroke="#5a5ac8" stroke-width="0.7"/>
<circle cx="461.00" cy="293.85" r="1.85" fill="#fff" stroke="#5a5ac8" stroke-width="0.7"/>
<circle cx="468.40" cy="287.13" r="1.85" fill="#fff" stroke="#5a5ac8" stroke-width="0.7"/>
<circle cx="475.80" cy="282.51" r="1.85" fill="#fff" stroke="#5a5ac8" stroke-width="0.7"/>
<circle cx="483.20" cy="278.59" r="1.85" fill="#fff" stroke="#5a5ac8" stroke-width="0.7"/>
<circle cx="490.60" cy="276.35" r="1.85" fill="#fff" stroke="#5a5ac8" stroke-width="0.7"/>
<circle cx="498.00" cy="275.16" r="1.85" fill="#fff" stroke="#5a5ac8" stroke-width="0.7"/>
<circle cx="505.40" cy="274.60" r="1.85" fill="#fff" stroke="#5a5ac8" stroke-width="0.7"/>
<circle cx="512.80" cy="274.60" r="1.85" fill="#fff" stroke="#5a5ac8" stroke-width="0.7"/>
<circle cx="520.20" cy="274.60" r="1.85" fill="#fff" stroke="#5a5ac8" stroke-width="0.7"/>
<circle cx="527.60" cy="274.60" r="1.85" fill="#fff" stroke="#5a5ac8" stroke-width="0.7"/>
<circle cx="535.00" cy="274.60" r="1.85" fill="#fff" stroke="#5a5ac8" stroke-width="0.7"/>
<circle cx="542.40" cy="274.60" r="1.85" fill="#fff" stroke="#5a5ac8" stroke-width="0.7"/>
<circle cx="549.80" cy="274.60" r="1.85" fill="#fff" stroke="#5a5ac8" stroke-width="0.7"/>
<polyline points="335.20,339.21 342.60,364.76 350.00,365.25 357.40,356.01 364.80,350.20 372.20,344.25 379.60,339.49 387.00,340.05 394.40,334.94 401.80,328.15 409.20,322.62 416.60,318.70 424.00,316.25 431.40,313.59 438.80,308.20 446.20,304.70 453.60,296.86 461.00,290.21 468.40,284.89 475.80,279.99 483.20,277.26 490.60,275.79 498.00,274.81 505.40,274.60 512.80,274.60 520.20,274.60 527.60,274.60 535.00,274.60 542.40,274.60 549.80,274.60" fill="none" stroke="#8ee070" stroke-width="0.65"/>
<rect x="333.35" y="337.51" width="3.7" height="3.4" fill="#e6f6e0" stroke="#72d05a" stroke-width="0.7"/>
<rect x="340.75" y="363.06" width="3.7" height="3.4" fill="#e6f6e0" stroke="#72d05a" stroke-width="0.7"/>
<rect x="348.15" y="363.55" width="3.7" height="3.4" fill="#e6f6e0" stroke="#72d05a" stroke-width="0.7"/>
<rect x="355.55" y="354.31" width="3.7" height="3.4" fill="#e6f6e0" stroke="#72d05a" stroke-width="0.7"/>
<rect x="362.95" y="348.50" width="3.7" height="3.4" fill="#e6f6e0" stroke="#72d05a" stroke-width="0.7"/>
<rect x="370.35" y="342.55" width="3.7" height="3.4" fill="#e6f6e0" stroke="#72d05a" stroke-width="0.7"/>
<rect x="377.75" y="337.79" width="3.7" height="3.4" fill="#e6f6e0" stroke="#72d05a" stroke-width="0.7"/>
<rect x="385.15" y="338.35" width="3.7" height="3.4" fill="#e6f6e0" stroke="#72d05a" stroke-width="0.7"/>
<rect x="392.55" y="333.24" width="3.7" height="3.4" fill="#e6f6e0" stroke="#72d05a" stroke-width="0.7"/>
<rect x="399.95" y="326.45" width="3.7" height="3.4" fill="#e6f6e0" stroke="#72d05a" stroke-width="0.7"/>
<rect x="407.35" y="320.92" width="3.7" height="3.4" fill="#e6f6e0" stroke="#72d05a" stroke-width="0.7"/>
<rect x="414.75" y="317.00" width="3.7" height="3.4" fill="#e6f6e0" stroke="#72d05a" stroke-width="0.7"/>
<rect x="422.15" y="314.55" width="3.7" height="3.4" fill="#e6f6e0" stroke="#72d05a" stroke-width="0.7"/>
<rect x="429.55" y="311.89" width="3.7" height="3.4" fill="#e6f6e0" stroke="#72d05a" stroke-width="0.7"/>
<rect x="436.95" y="306.50" width="3.7" height="3.4" fill="#e6f6e0" stroke="#72d05a" stroke-width="0.7"/>
<rect x="444.35" y="303.00" width="3.7" height="3.4" fill="#e6f6e0" stroke="#72d05a" stroke-width="0.7"/>
<rect x="451.75" y="295.16" width="3.7" height="3.4" fill="#e6f6e0" stroke="#72d05a" stroke-width="0.7"/>
<rect x="459.15" y="288.51" width="3.7" height="3.4" fill="#e6f6e0" stroke="#72d05a" stroke-width="0.7"/>
<rect x="466.55" y="283.19" width="3.7" height="3.4" fill="#e6f6e0" stroke="#72d05a" stroke-width="0.7"/>
<rect x="473.95" y="278.29" width="3.7" height="3.4" fill="#e6f6e0" stroke="#72d05a" stroke-width="0.7"/>
<rect x="481.35" y="275.56" width="3.7" height="3.4" fill="#e6f6e0" stroke="#72d05a" stroke-width="0.7"/>
<rect x="488.75" y="274.09" width="3.7" height="3.4" fill="#e6f6e0" stroke="#72d05a" stroke-width="0.7"/>
<rect x="496.15" y="273.11" width="3.7" height="3.4" fill="#e6f6e0" stroke="#72d05a" stroke-width="0.7"/>
<rect x="503.55" y="272.90" width="3.7" height="3.4" fill="#e6f6e0" stroke="#72d05a" stroke-width="0.7"/>
<rect x="510.95" y="272.90" width="3.7" height="3.4" fill="#e6f6e0" stroke="#72d05a" stroke-width="0.7"/>
<rect x="518.35" y="272.90" width="3.7" height="3.4" fill="#e6f6e0" stroke="#72d05a" stroke-width="0.7"/>
<rect x="525.75" y="272.90" width="3.7" height="3.4" fill="#e6f6e0" stroke="#72d05a" stroke-width="0.7"/>
<rect x="533.15" y="272.90" width="3.7" height="3.4" fill="#e6f6e0" stroke="#72d05a" stroke-width="0.7"/>
<rect x="540.55" y="272.90" width="3.7" height="3.4" fill="#e6f6e0" stroke="#72d05a" stroke-width="0.7"/>
<rect x="547.95" y="272.90" width="3.7" height="3.4" fill="#e6f6e0" stroke="#72d05a" stroke-width="0.7"/>
</g>
<text x="299.0" y="231.7" font-size="13" font-weight="bold" fill="#000" stroke="#000" stroke-width="0.3">D</text>
<text transform="translate(314,301.3) rotate(-90)" text-anchor="middle" font-size="9.7" fill="#111" stroke="#111" stroke-width="0.35">Δ G [kcal/mol]<tspan font-size="7.5" dx="0.5" dy="4.5" stroke-width="0.12"></tspan><tspan dy="-4.5"> </tspan></text>
<text x="441.2" y="409.3" text-anchor="middle" font-size="9.7" fill="#111" stroke="#111" stroke-width="0.35">d<tspan font-size="7" dx="1" dy="4.5" stroke-width="0.12">1-2</tspan><tspan dy="-4.5"> [A]</tspan></text>
</svg>
</body></html>
